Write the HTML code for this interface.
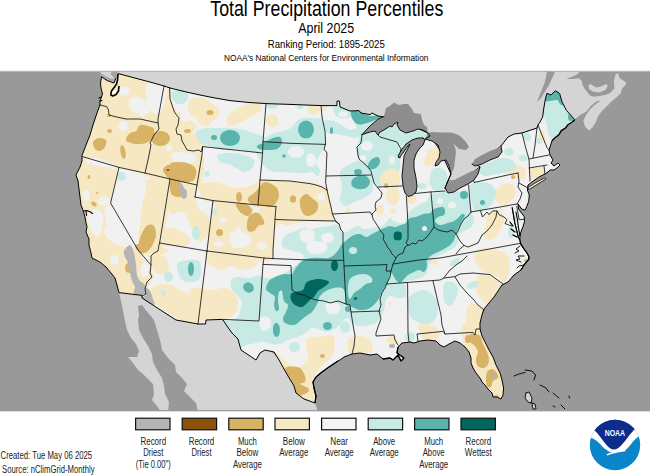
<!DOCTYPE html>
<html><head><meta charset="utf-8"><title>Total Precipitation Percentiles</title>
<style>html,body{margin:0;padding:0;background:#fff}svg{display:block}text{font-family:"Liberation Sans",sans-serif}</style>
</head><body>
<svg width="650" height="475" viewBox="0 0 650 475" font-family="Liberation Sans, sans-serif">
<rect width="650" height="475" fill="#fff"/>

<g fill="#000" text-anchor="middle">
<text x="326.8" y="16" font-size="21.6" textLength="233" lengthAdjust="spacingAndGlyphs">Total Precipitation Percentiles</text>
<text x="326.2" y="33" font-size="15" textLength="56" lengthAdjust="spacingAndGlyphs">April 2025</text>
<text x="326.3" y="47.6" font-size="11" textLength="117" lengthAdjust="spacingAndGlyphs">Ranking Period: 1895-2025</text>
<text x="326.2" y="61" font-size="9.4" textLength="204.5" lengthAdjust="spacingAndGlyphs">NOAA's National Centers for Environmental Information</text>
</g>
<defs><clipPath id="mapclip"><rect x="0" y="71.3" width="650" height="339.5"/></clipPath>
<clipPath id="us"><path d="M118.0,73.5 L134.0,77.8 L150.0,82.0 L164.0,86.0 L170.0,88.0 L185.0,91.7 L200.0,95.0 L215.0,98.0 L230.0,100.6 L248.0,102.4 L266.0,103.6 L290.0,104.4 L321.0,105.6 L337.0,105.6 L337.0,101.0 L339.4,101.0 L340.0,107.0 L350.0,111.0 L359.0,110.6 L361.0,113.0 L370.0,114.6 L372.0,113.0 L378.0,116.0 L384.0,117.0 L400.0,120.0 L428.0,133.0 L440.0,150.0 L451.0,174.0 L447.0,183.0 L445.0,189.0 L462.0,180.0 L480.0,167.0 L475.0,163.0 L490.0,155.0 L501.0,146.0 L508.0,137.0 L514.0,134.0 L522.0,133.0 L537.0,128.0 L538.0,125.0 L540.0,122.0 L542.7,117.0 L543.5,110.0 L545.2,100.0 L546.9,93.4 L551.0,95.0 L555.4,90.8 L559.6,93.4 L562.0,101.8 L566.4,110.3 L572.3,117.0 L574.8,119.6 L572.3,122.0 L568.0,124.7 L565.5,128.0 L561.3,130.6 L558.8,134.8 L555.4,137.4 L552.0,140.8 L551.0,144.0 L549.0,150.0 L550.0,155.0 L553.0,160.0 L551.0,163.0 L554.0,166.0 L558.0,163.0 L560.0,165.0 L557.0,168.0 L554.0,170.0 L550.0,170.0 L548.0,172.0 L545.0,174.0 L539.0,177.0 L532.0,182.0 L528.0,185.0 L527.4,190.0 L529.3,195.0 L528.7,201.4 L526.8,206.4 L524.9,210.2 L521.7,209.0 L518.0,204.0 L518.6,209.0 L521.7,213.4 L524.2,216.5 L524.5,221.6 L523.0,226.7 L521.0,231.7 L519.8,236.8 L520.0,241.0 L521.0,244.4 L523.8,248.7 L527.0,253.0 L528.7,256.2 L529.0,259.0 L524.0,265.0 L521.0,270.0 L514.0,275.0 L508.0,282.0 L502.0,285.0 L498.0,291.0 L494.0,297.0 L489.0,303.0 L484.0,309.0 L482.0,315.0 L480.0,323.0 L480.0,329.0 L482.0,336.0 L485.0,342.0 L489.0,350.0 L493.0,357.0 L496.0,365.0 L500.0,373.0 L502.0,380.0 L503.6,388.0 L503.0,395.0 L501.0,399.0 L497.0,397.0 L493.0,397.0 L492.0,393.0 L488.0,389.0 L485.0,385.0 L482.0,382.0 L480.0,378.0 L476.0,373.0 L473.0,368.0 L471.0,363.0 L471.0,358.0 L469.0,352.0 L465.0,347.0 L460.0,343.0 L455.0,341.0 L449.0,344.0 L444.0,347.0 L440.0,345.0 L436.0,341.0 L428.0,340.0 L420.0,341.0 L414.0,343.0 L410.0,342.0 L402.0,343.0 L398.0,347.0 L397.0,353.0 L404.0,358.0 L401.0,361.0 L398.0,355.0 L393.0,360.0 L390.0,358.0 L383.0,359.0 L377.0,354.0 L370.0,355.0 L360.0,353.0 L352.0,354.0 L344.0,357.0 L340.0,360.0 L338.0,361.0 L329.0,367.0 L322.0,372.0 L316.0,377.0 L313.0,382.0 L314.0,388.0 L316.0,396.0 L315.0,403.0 L304.0,399.0 L296.0,393.0 L294.0,386.0 L288.0,376.0 L284.0,369.0 L279.0,360.0 L274.0,352.0 L265.0,350.0 L260.0,353.0 L256.0,360.0 L247.0,354.0 L241.0,350.0 L238.0,339.0 L232.0,333.0 L227.0,326.0 L223.0,320.0 L222.0,319.4 L206.0,320.0 L205.6,324.0 L198.0,324.0 L176.0,320.0 L142.0,298.0 L142.0,295.4 L119.0,292.6 L117.0,285.0 L115.0,278.0 L111.0,273.0 L106.0,267.0 L100.0,262.0 L92.0,258.0 L91.0,253.0 L89.0,245.0 L89.0,239.0 L86.0,232.0 L87.0,227.0 L86.0,223.0 L85.0,217.0 L83.0,210.0 L81.0,205.0 L80.0,197.0 L79.0,189.0 L78.0,181.0 L76.0,175.0 L80.0,167.0 L82.0,161.0 L82.0,155.0 L83.0,153.0 L86.0,145.0 L90.0,135.0 L93.0,125.0 L97.0,113.0 L100.0,105.0 L100.0,101.0 L101.5,97.0 L102.5,94.0 L101.0,88.0 L100.5,83.0 L101.5,76.8 L107.0,80.5 L114.0,83.0 L116.0,78.0Z"/><path d="M528.0,187.5 L536.0,182.5 L545.0,177.5 L546.0,179.0 L538.0,184.0 L529.0,189.5Z"/></clipPath></defs>
<g clip-path="url(#mapclip)">
<rect x="0" y="71.3" width="650" height="339.5" fill="#999999"/>
<path d="M100.0,71.0 L580.8,71.0 L576.5,74.8 L570.6,77.3 L566.4,79.0 L572.3,79.0 L579.0,78.2 L581.6,80.7 L582.5,84.9 L585.0,89.2 L588.4,93.4 L590.9,95.9 L594.3,96.8 L599.4,95.9 L604.5,95.1 L609.5,93.4 L614.6,88.3 L613.8,81.5 L615.4,74.8 L618.0,73.1 L619.7,78.2 L624.8,81.5 L626.4,84.1 L622.2,88.3 L620.5,93.4 L616.3,97.6 L611.2,101.8 L606.1,106.9 L601.1,112.0 L597.7,117.1 L596.0,122.1 L592.6,127.2 L589.2,130.6 L585.0,126.4 L583.3,120.5 L585.8,115.4 L589.2,110.3 L593.5,106.1 L597.7,102.7 L601.1,100.1 L596.0,101.8 L590.9,106.1 L585.8,112.0 L580.8,114.5 L575.7,118.8 L560.0,130.0 L500.0,180.0 L400.0,180.0 L300.0,150.0 L120.0,150.0 L104.0,90.0 L101.7,75.5Z" fill="#d4d4d4"/>
<path d="M588.4,85.8 L590.9,84.1 L596.0,87.5 L601.0,86.6 L606.0,84.0 L607.8,85.8 L605.3,90.0 L599.4,92.5 L593.5,91.7 L589.2,89.2Z" fill="#d4d4d4"/>
<path d="M119.0,292.6 L121.0,301.0 L123.0,311.0 L125.0,321.0 L127.0,330.0 L131.0,338.0 L136.0,344.0 L139.0,351.0 L137.0,357.0 L128.0,357.0 L133.0,363.0 L138.0,370.0 L143.0,374.0 L148.0,379.0 L153.0,384.0 L154.0,394.0 L152.0,400.0 L157.0,406.0 L161.0,412.0 L168.0,412.0 L169.0,402.0 L165.0,394.0 L164.0,386.0 L162.0,378.0 L157.0,370.0 L153.0,362.0 L152.0,354.0 L148.0,346.0 L143.0,338.0 L139.0,330.0 L138.0,320.0 L139.0,315.0 L138.0,306.0 L142.0,305.0 L145.0,309.0 L150.0,315.0 L154.0,320.0 L157.0,330.0 L160.0,340.0 L162.0,350.0 L168.0,358.0 L175.0,365.0 L176.0,372.0 L182.0,378.0 L187.0,384.0 L184.0,391.0 L190.0,397.0 L196.0,403.0 L198.0,412.0 L318.0,412.0 L315.0,403.0 L300.0,380.0 L260.0,340.0 L220.0,310.0 L176.0,310.0 L142.0,290.0 L119.0,285.0Z" fill="#d4d4d4"/>
<path d="M526.0,393.0 L529.0,392.0 L532.0,398.0 L531.0,403.0 L528.0,402.0 L525.0,398.0Z" fill="#d4d4d4"/>
<path d="M532.0,403.0 L535.0,404.0 L536.0,409.0 L533.0,409.0Z" fill="#d4d4d4"/>
<path d="M547.0,71.0 L555.4,71.0 L549.0,85.0 L541.0,98.0 L537.0,102.0 L540.0,94.0 L545.0,82.0Z" fill="#999999"/>
<path d="M100.0,72.5 L106.0,76.5 L112.0,79.0 L117.0,77.0 L115.0,82.0 L107.0,81.0 L101.0,77.5Z" fill="#a8a8a8"/>
<path d="M118.0,73.5 L134.0,77.8 L150.0,82.0 L164.0,86.0 L170.0,88.0 L185.0,91.7 L200.0,95.0 L215.0,98.0 L230.0,100.6 L248.0,102.4 L266.0,103.6 L290.0,104.4 L321.0,105.6 L337.0,105.6 L337.0,101.0 L339.4,101.0 L340.0,107.0 L350.0,111.0 L359.0,110.6 L361.0,113.0 L370.0,114.6 L372.0,113.0 L378.0,116.0 L384.0,117.0 L400.0,120.0 L428.0,133.0 L440.0,150.0 L451.0,174.0 L447.0,183.0 L445.0,189.0 L462.0,180.0 L480.0,167.0 L475.0,163.0 L490.0,155.0 L501.0,146.0 L508.0,137.0 L514.0,134.0 L522.0,133.0 L537.0,128.0 L538.0,125.0 L540.0,122.0 L542.7,117.0 L543.5,110.0 L545.2,100.0 L546.9,93.4 L551.0,95.0 L555.4,90.8 L559.6,93.4 L562.0,101.8 L566.4,110.3 L572.3,117.0 L574.8,119.6 L572.3,122.0 L568.0,124.7 L565.5,128.0 L561.3,130.6 L558.8,134.8 L555.4,137.4 L552.0,140.8 L551.0,144.0 L549.0,150.0 L550.0,155.0 L553.0,160.0 L551.0,163.0 L554.0,166.0 L558.0,163.0 L560.0,165.0 L557.0,168.0 L554.0,170.0 L550.0,170.0 L548.0,172.0 L545.0,174.0 L539.0,177.0 L532.0,182.0 L528.0,185.0 L527.4,190.0 L529.3,195.0 L528.7,201.4 L526.8,206.4 L524.9,210.2 L521.7,209.0 L518.0,204.0 L518.6,209.0 L521.7,213.4 L524.2,216.5 L524.5,221.6 L523.0,226.7 L521.0,231.7 L519.8,236.8 L520.0,241.0 L521.0,244.4 L523.8,248.7 L527.0,253.0 L528.7,256.2 L529.0,259.0 L524.0,265.0 L521.0,270.0 L514.0,275.0 L508.0,282.0 L502.0,285.0 L498.0,291.0 L494.0,297.0 L489.0,303.0 L484.0,309.0 L482.0,315.0 L480.0,323.0 L480.0,329.0 L482.0,336.0 L485.0,342.0 L489.0,350.0 L493.0,357.0 L496.0,365.0 L500.0,373.0 L502.0,380.0 L503.6,388.0 L503.0,395.0 L501.0,399.0 L497.0,397.0 L493.0,397.0 L492.0,393.0 L488.0,389.0 L485.0,385.0 L482.0,382.0 L480.0,378.0 L476.0,373.0 L473.0,368.0 L471.0,363.0 L471.0,358.0 L469.0,352.0 L465.0,347.0 L460.0,343.0 L455.0,341.0 L449.0,344.0 L444.0,347.0 L440.0,345.0 L436.0,341.0 L428.0,340.0 L420.0,341.0 L414.0,343.0 L410.0,342.0 L402.0,343.0 L398.0,347.0 L397.0,353.0 L404.0,358.0 L401.0,361.0 L398.0,355.0 L393.0,360.0 L390.0,358.0 L383.0,359.0 L377.0,354.0 L370.0,355.0 L360.0,353.0 L352.0,354.0 L344.0,357.0 L340.0,360.0 L338.0,361.0 L329.0,367.0 L322.0,372.0 L316.0,377.0 L313.0,382.0 L314.0,388.0 L316.0,396.0 L315.0,403.0 L304.0,399.0 L296.0,393.0 L294.0,386.0 L288.0,376.0 L284.0,369.0 L279.0,360.0 L274.0,352.0 L265.0,350.0 L260.0,353.0 L256.0,360.0 L247.0,354.0 L241.0,350.0 L238.0,339.0 L232.0,333.0 L227.0,326.0 L223.0,320.0 L222.0,319.4 L206.0,320.0 L205.6,324.0 L198.0,324.0 L176.0,320.0 L142.0,298.0 L142.0,295.4 L119.0,292.6 L117.0,285.0 L115.0,278.0 L111.0,273.0 L106.0,267.0 L100.0,262.0 L92.0,258.0 L91.0,253.0 L89.0,245.0 L89.0,239.0 L86.0,232.0 L87.0,227.0 L86.0,223.0 L85.0,217.0 L83.0,210.0 L81.0,205.0 L80.0,197.0 L79.0,189.0 L78.0,181.0 L76.0,175.0 L80.0,167.0 L82.0,161.0 L82.0,155.0 L83.0,153.0 L86.0,145.0 L90.0,135.0 L93.0,125.0 L97.0,113.0 L100.0,105.0 L100.0,101.0 L101.5,97.0 L102.5,94.0 L101.0,88.0 L100.5,83.0 L101.5,76.8 L107.0,80.5 L114.0,83.0 L116.0,78.0Z" fill="#f1f1f1"/>
<path d="M528.0,187.5 L536.0,182.5 L545.0,177.5 L546.0,179.0 L538.0,184.0 L529.0,189.5Z" fill="#f6e8c3"/>
<g clip-path="url(#us)">
<path d="M98.0,72.0 C101.3,67.3 111.0,71.0 118.0,72.0 C125.0,73.0 134.7,76.5 140.0,78.0 C145.3,79.5 148.7,78.7 150.0,81.0 C151.3,83.3 148.7,88.3 148.0,92.0 C147.3,95.7 145.7,100.0 146.0,103.0 C146.3,106.0 148.0,108.2 150.0,110.0 C152.0,111.8 155.8,114.3 158.0,114.0 C160.2,113.7 161.7,110.7 163.0,108.0 C164.3,105.3 165.0,101.3 166.0,98.0 C167.0,94.7 168.0,87.7 169.0,88.0 C170.0,88.3 170.8,96.0 172.0,100.0 C173.2,104.0 174.5,108.7 176.0,112.0 C177.5,115.3 180.3,117.0 181.0,120.0 C181.7,123.0 179.2,127.0 180.0,130.0 C180.8,133.0 184.3,135.0 186.0,138.0 C187.7,141.0 187.7,145.7 190.0,148.0 C192.3,150.3 197.7,150.0 200.0,152.0 C202.3,154.0 203.5,156.7 204.0,160.0 C204.5,163.3 203.8,167.7 203.0,172.0 C202.2,176.3 202.0,184.0 199.0,186.0 C196.0,188.0 189.8,185.0 185.0,184.0 C180.2,183.0 175.8,181.5 170.0,180.0 C164.2,178.5 155.8,176.3 150.0,175.0 C144.2,173.7 140.2,173.2 135.0,172.0 C129.8,170.8 122.2,166.7 119.0,168.0 C115.8,169.3 117.2,176.0 116.0,180.0 C114.8,184.0 113.0,188.0 112.0,192.0 C111.0,196.0 112.0,201.0 110.0,204.0 C108.0,207.0 103.0,208.7 100.0,210.0 C97.0,211.3 94.7,211.3 92.0,212.0 C89.3,212.7 86.0,216.0 84.0,214.0 C82.0,212.0 81.3,205.7 80.0,200.0 C78.7,194.3 77.0,185.8 76.0,180.0 C75.0,174.2 73.3,170.0 74.0,165.0 C74.7,160.0 78.0,155.0 80.0,150.0 C82.0,145.0 84.0,140.3 86.0,135.0 C88.0,129.7 90.0,123.8 92.0,118.0 C94.0,112.2 97.0,107.7 98.0,100.0 C99.0,92.3 94.7,76.7 98.0,72.0Z" fill="#f6e8c3"/>
<path d="M84.0,212.0 C85.2,208.3 89.3,208.7 92.0,208.0 C94.7,207.3 97.7,207.3 100.0,208.0 C102.3,208.7 104.7,209.7 106.0,212.0 C107.3,214.3 108.3,218.7 108.0,222.0 C107.7,225.3 103.7,229.0 104.0,232.0 C104.3,235.0 107.3,237.7 110.0,240.0 C112.7,242.3 116.7,245.0 120.0,246.0 C123.3,247.0 127.0,245.3 130.0,246.0 C133.0,246.7 135.3,247.3 138.0,250.0 C140.7,252.7 143.7,259.0 146.0,262.0 C148.3,265.0 151.0,265.0 152.0,268.0 C153.0,271.0 153.0,276.3 152.0,280.0 C151.0,283.7 147.7,287.2 146.0,290.0 C144.3,292.8 146.5,296.5 142.0,297.0 C137.5,297.5 124.3,296.7 119.0,293.0 C113.7,289.3 113.2,279.8 110.0,275.0 C106.8,270.2 103.3,266.8 100.0,264.0 C96.7,261.2 92.0,261.2 90.0,258.0 C88.0,254.8 88.8,249.7 88.0,245.0 C87.2,240.3 85.7,235.5 85.0,230.0 C84.3,224.5 82.8,215.7 84.0,212.0Z" fill="#f6e8c3"/>
<path d="M146.0,173.0 C149.3,171.0 161.7,176.5 166.0,178.0 C170.3,179.5 171.3,178.3 172.0,182.0 C172.7,185.7 171.0,192.8 170.0,200.0 C169.0,207.2 167.3,217.5 166.0,225.0 C164.7,232.5 161.7,240.8 162.0,245.0 C162.3,249.2 168.3,248.2 168.0,250.0 C167.7,251.8 163.0,254.7 160.0,256.0 C157.0,257.3 153.0,259.0 150.0,258.0 C147.0,257.0 144.0,253.0 142.0,250.0 C140.0,247.0 138.3,244.2 138.0,240.0 C137.7,235.8 139.3,230.8 140.0,225.0 C140.7,219.2 141.0,210.8 142.0,205.0 C143.0,199.2 145.3,195.3 146.0,190.0 C146.7,184.7 142.7,175.0 146.0,173.0Z" fill="#f6e8c3"/>
<path d="M170.0,162.0 C175.3,157.0 194.3,157.8 200.0,160.0 C205.7,162.2 204.3,170.7 204.0,175.0 C203.7,179.3 199.3,181.8 198.0,186.0 C196.7,190.2 195.7,196.0 196.0,200.0 C196.3,204.0 198.3,207.7 200.0,210.0 C201.7,212.3 204.0,211.5 206.0,214.0 C208.0,216.5 211.7,221.5 212.0,225.0 C212.3,228.5 210.0,232.2 208.0,235.0 C206.0,237.8 202.0,241.8 200.0,242.0 C198.0,242.2 197.7,238.8 196.0,236.0 C194.3,233.2 191.7,228.5 190.0,225.0 C188.3,221.5 187.7,217.2 186.0,215.0 C184.3,212.8 182.3,212.2 180.0,212.0 C177.7,211.8 174.3,215.2 172.0,214.0 C169.7,212.8 166.7,209.0 166.0,205.0 C165.3,201.0 167.3,197.2 168.0,190.0 C168.7,182.8 164.7,167.0 170.0,162.0Z" fill="#f6e8c3"/>
<path d="M160.0,232.0 C162.0,229.3 168.3,228.0 172.0,228.0 C175.7,228.0 179.0,230.3 182.0,232.0 C185.0,233.7 189.3,235.7 190.0,238.0 C190.7,240.3 189.0,244.7 186.0,246.0 C183.0,247.3 176.3,246.3 172.0,246.0 C167.7,245.7 162.0,246.3 160.0,244.0 C158.0,241.7 158.0,234.7 160.0,232.0Z" fill="#f6e8c3"/>
<path d="M198.0,186.0 C199.0,183.0 206.0,182.3 210.0,182.0 C214.0,181.7 217.7,183.0 222.0,184.0 C226.3,185.0 231.3,187.7 236.0,188.0 C240.7,188.3 245.7,187.3 250.0,186.0 C254.3,184.7 257.0,181.0 262.0,180.0 C267.0,179.0 273.7,179.7 280.0,180.0 C286.3,180.3 293.7,181.3 300.0,182.0 C306.3,182.7 313.5,182.7 318.0,184.0 C322.5,185.3 324.8,186.8 327.0,190.0 C329.2,193.2 330.0,199.0 331.0,203.0 C332.0,207.0 332.5,211.0 333.0,214.0 C333.5,217.0 335.8,219.7 334.0,221.0 C332.2,222.3 326.3,221.8 322.0,222.0 C317.7,222.2 312.3,221.8 308.0,222.0 C303.7,222.2 299.3,222.3 296.0,223.0 C292.7,223.7 290.3,225.8 288.0,226.0 C285.7,226.2 284.0,223.7 282.0,224.0 C280.0,224.3 277.3,224.3 276.0,228.0 C274.7,231.7 274.7,241.0 274.0,246.0 C273.3,251.0 274.0,255.3 272.0,258.0 C270.0,260.7 265.7,262.0 262.0,262.0 C258.3,262.0 254.3,259.0 250.0,258.0 C245.7,257.0 240.7,256.7 236.0,256.0 C231.3,255.3 226.3,255.0 222.0,254.0 C217.7,253.0 212.3,253.0 210.0,250.0 C207.7,247.0 207.7,241.0 208.0,236.0 C208.3,231.0 211.0,225.3 212.0,220.0 C213.0,214.7 215.3,207.3 214.0,204.0 C212.7,200.7 206.7,203.0 204.0,200.0 C201.3,197.0 197.0,189.0 198.0,186.0Z" fill="#f6e8c3"/>
<path d="M190.0,100.0 C191.7,98.5 195.3,97.2 198.0,97.0 C200.7,96.8 203.7,97.8 206.0,99.0 C208.3,100.2 210.0,102.5 212.0,104.0 C214.0,105.5 216.7,106.3 218.0,108.0 C219.3,109.7 220.7,112.0 220.0,114.0 C219.3,116.0 216.0,118.0 214.0,120.0 C212.0,122.0 210.3,125.3 208.0,126.0 C205.7,126.7 202.0,125.3 200.0,124.0 C198.0,122.7 197.7,119.7 196.0,118.0 C194.3,116.3 191.3,116.0 190.0,114.0 C188.7,112.0 188.0,108.3 188.0,106.0 C188.0,103.7 188.3,101.5 190.0,100.0Z" fill="#f6e8c3"/>
<path d="M226.0,122.0 C226.0,120.0 228.0,116.3 230.0,114.0 C232.0,111.7 235.0,109.7 238.0,108.0 C241.0,106.3 244.7,105.0 248.0,104.0 C251.3,103.0 255.7,101.3 258.0,102.0 C260.3,102.7 262.3,106.0 262.0,108.0 C261.7,110.0 258.3,112.3 256.0,114.0 C253.7,115.7 251.0,116.3 248.0,118.0 C245.0,119.7 241.0,122.7 238.0,124.0 C235.0,125.3 232.0,126.3 230.0,126.0 C228.0,125.7 226.0,124.0 226.0,122.0Z" fill="#f6e8c3"/>
<path d="M176.0,112.0 C177.0,110.7 181.7,112.7 184.0,114.0 C186.3,115.3 188.0,118.0 190.0,120.0 C192.0,122.0 195.7,123.7 196.0,126.0 C196.3,128.3 193.7,132.0 192.0,134.0 C190.3,136.0 188.0,138.3 186.0,138.0 C184.0,137.7 181.3,134.7 180.0,132.0 C178.7,129.3 178.7,125.3 178.0,122.0 C177.3,118.7 175.0,113.3 176.0,112.0Z" fill="#f6e8c3"/>
<path d="M186.0,138.0 C187.0,135.7 193.0,134.0 196.0,134.0 C199.0,134.0 202.3,136.0 204.0,138.0 C205.7,140.0 207.0,144.0 206.0,146.0 C205.0,148.0 200.7,149.7 198.0,150.0 C195.3,150.3 192.0,150.0 190.0,148.0 C188.0,146.0 185.0,140.3 186.0,138.0Z" fill="#f6e8c3"/>
<path d="M207.0,251.0 C211.0,249.8 222.8,252.2 230.0,253.0 C237.2,253.8 245.3,254.5 250.0,256.0 C254.7,257.5 257.7,260.0 258.0,262.0 C258.3,264.0 255.0,266.7 252.0,268.0 C249.0,269.3 243.7,270.3 240.0,270.0 C236.3,269.7 233.0,266.0 230.0,266.0 C227.0,266.0 225.0,270.0 222.0,270.0 C219.0,270.0 214.7,267.7 212.0,266.0 C209.3,264.3 206.8,262.5 206.0,260.0 C205.2,257.5 203.0,252.2 207.0,251.0Z" fill="#f6e8c3"/>
<path d="M190.0,290.0 C192.0,287.3 196.3,288.0 200.0,288.0 C203.7,288.0 208.0,290.0 212.0,290.0 C216.0,290.0 220.3,287.7 224.0,288.0 C227.7,288.3 231.7,289.7 234.0,292.0 C236.3,294.3 237.7,298.7 238.0,302.0 C238.3,305.3 237.7,309.3 236.0,312.0 C234.3,314.7 231.7,316.7 228.0,318.0 C224.3,319.3 218.7,319.3 214.0,320.0 C209.3,320.7 203.7,322.7 200.0,322.0 C196.3,321.3 194.0,319.0 192.0,316.0 C190.0,313.0 188.3,308.3 188.0,304.0 C187.7,299.7 188.0,292.7 190.0,290.0Z" fill="#f6e8c3"/>
<path d="M152.0,258.0 C153.3,255.7 159.3,255.3 162.0,256.0 C164.7,256.7 167.0,259.3 168.0,262.0 C169.0,264.7 169.3,270.0 168.0,272.0 C166.7,274.0 162.3,274.3 160.0,274.0 C157.7,273.7 155.3,272.7 154.0,270.0 C152.7,267.3 150.7,260.3 152.0,258.0Z" fill="#f6e8c3"/>
<path d="M156.0,286.0 C159.7,284.3 164.0,283.3 168.0,284.0 C172.0,284.7 176.0,288.0 180.0,290.0 C184.0,292.0 189.0,293.0 192.0,296.0 C195.0,299.0 197.0,303.7 198.0,308.0 C199.0,312.3 200.0,319.7 198.0,322.0 C196.0,324.3 189.7,322.7 186.0,322.0 C182.3,321.3 179.7,320.0 176.0,318.0 C172.3,316.0 168.0,312.7 164.0,310.0 C160.0,307.3 155.0,304.7 152.0,302.0 C149.0,299.3 145.3,296.7 146.0,294.0 C146.7,291.3 152.3,287.7 156.0,286.0Z" fill="#f6e8c3"/>
<path d="M274.0,352.0 C274.3,351.0 279.0,355.7 282.0,358.0 C285.0,360.3 289.0,364.7 292.0,366.0 C295.0,367.3 297.3,367.0 300.0,366.0 C302.7,365.0 307.0,363.3 308.0,360.0 C309.0,356.7 306.0,349.7 306.0,346.0 C306.0,342.3 305.7,339.5 308.0,338.0 C310.3,336.5 316.0,337.5 320.0,337.0 C324.0,336.5 329.5,333.8 332.0,335.0 C334.5,336.2 335.0,340.5 335.0,344.0 C335.0,347.5 333.8,352.7 332.0,356.0 C330.2,359.3 326.3,361.7 324.0,364.0 C321.7,366.3 319.7,367.7 318.0,370.0 C316.3,372.3 314.5,375.0 314.0,378.0 C313.5,381.0 314.7,384.0 315.0,388.0 C315.3,392.0 317.8,400.2 316.0,402.0 C314.2,403.8 307.3,400.5 304.0,399.0 C300.7,397.5 298.7,396.8 296.0,393.0 C293.3,389.2 290.7,380.8 288.0,376.0 C285.3,371.2 282.3,368.0 280.0,364.0 C277.7,360.0 273.7,353.0 274.0,352.0Z" fill="#f6e8c3"/>
<ellipse cx="385.0" cy="181.0" rx="5.0" ry="6.0" fill="#f6e8c3"/>
<ellipse cx="390.0" cy="195.0" rx="4.0" ry="6.0" fill="#f6e8c3"/>
<ellipse cx="380.0" cy="210.0" rx="4.0" ry="5.0" fill="#f6e8c3"/>
<ellipse cx="393.0" cy="211.0" rx="3.0" ry="3.0" fill="#f6e8c3"/>
<ellipse cx="348.0" cy="210.0" rx="2.0" ry="3.0" fill="#f6e8c3"/>
<path d="M428.0,150.0 C429.7,148.7 433.8,147.7 436.0,148.0 C438.2,148.3 440.3,150.3 441.0,152.0 C441.7,153.7 441.2,156.3 440.0,158.0 C438.8,159.7 435.7,160.7 434.0,162.0 C432.3,163.3 431.7,165.7 430.0,166.0 C428.3,166.3 424.7,165.7 424.0,164.0 C423.3,162.3 425.3,158.3 426.0,156.0 C426.7,153.7 426.3,151.3 428.0,150.0Z" fill="#f6e8c3"/>
<ellipse cx="415.0" cy="152.0" rx="3.0" ry="4.0" fill="#f6e8c3"/>
<ellipse cx="431.0" cy="183.0" rx="3.0" ry="2.5" fill="#f6e8c3"/>
<path d="M496.0,190.0 C497.7,188.0 501.3,186.7 504.0,186.0 C506.7,185.3 510.3,184.7 512.0,186.0 C513.7,187.3 514.7,191.3 514.0,194.0 C513.3,196.7 510.3,200.3 508.0,202.0 C505.7,203.7 502.3,204.7 500.0,204.0 C497.7,203.3 494.7,200.3 494.0,198.0 C493.3,195.7 494.3,192.0 496.0,190.0Z" fill="#f6e8c3"/>
<path d="M508.0,166.0 C508.7,164.0 513.3,163.7 516.0,164.0 C518.7,164.3 522.3,166.0 524.0,168.0 C525.7,170.0 526.7,174.0 526.0,176.0 C525.3,178.0 522.3,180.0 520.0,180.0 C517.7,180.0 514.0,178.3 512.0,176.0 C510.0,173.7 507.3,168.0 508.0,166.0Z" fill="#f6e8c3"/>
<path d="M530.0,169.0 C532.3,167.2 541.7,166.2 544.0,167.0 C546.3,167.8 545.3,172.2 544.0,174.0 C542.7,175.8 538.3,177.3 536.0,178.0 C533.7,178.7 531.0,179.5 530.0,178.0 C529.0,176.5 527.7,170.8 530.0,169.0Z" fill="#f6e8c3"/>
<ellipse cx="512.0" cy="172.0" rx="5.0" ry="4.0" fill="#f6e8c3"/>
<path d="M500.0,186.0 C502.0,182.7 509.3,183.0 512.0,184.0 C514.7,185.0 516.3,189.0 516.0,192.0 C515.7,195.0 512.7,200.0 510.0,202.0 C507.3,204.0 501.7,206.7 500.0,204.0 C498.3,201.3 498.0,189.3 500.0,186.0Z" fill="#f6e8c3"/>
<path d="M488.0,214.0 C490.0,211.7 495.3,209.7 498.0,210.0 C500.7,210.3 503.3,213.3 504.0,216.0 C504.7,218.7 503.3,222.7 502.0,226.0 C500.7,229.3 498.0,233.7 496.0,236.0 C494.0,238.3 492.0,240.0 490.0,240.0 C488.0,240.0 484.7,238.7 484.0,236.0 C483.3,233.3 485.3,227.7 486.0,224.0 C486.7,220.3 486.0,216.3 488.0,214.0Z" fill="#f6e8c3"/>
<path d="M476.0,252.0 C477.8,250.0 482.7,248.3 486.0,248.0 C489.3,247.7 493.0,249.3 496.0,250.0 C499.0,250.7 501.8,250.7 504.0,252.0 C506.2,253.3 508.0,255.7 509.0,258.0 C510.0,260.3 510.2,263.0 510.0,266.0 C509.8,269.0 509.0,273.3 508.0,276.0 C507.0,278.7 506.0,282.0 504.0,282.0 C502.0,282.0 498.7,277.3 496.0,276.0 C493.3,274.7 490.7,275.3 488.0,274.0 C485.3,272.7 482.2,270.3 480.0,268.0 C477.8,265.7 475.7,262.7 475.0,260.0 C474.3,257.3 474.2,254.0 476.0,252.0Z" fill="#f6e8c3"/>
<path d="M478.0,276.0 C480.3,273.7 486.3,274.7 490.0,276.0 C493.7,277.3 499.0,281.0 500.0,284.0 C501.0,287.0 498.0,290.7 496.0,294.0 C494.0,297.3 490.3,303.0 488.0,304.0 C485.7,305.0 484.0,302.3 482.0,300.0 C480.0,297.7 476.7,294.0 476.0,290.0 C475.3,286.0 475.7,278.3 478.0,276.0Z" fill="#f6e8c3"/>
<path d="M468.0,306.0 C469.7,303.0 473.3,303.3 476.0,304.0 C478.7,304.7 483.3,307.0 484.0,310.0 C484.7,313.0 480.7,318.0 480.0,322.0 C479.3,326.0 481.7,332.0 480.0,334.0 C478.3,336.0 472.3,336.0 470.0,334.0 C467.7,332.0 466.3,326.7 466.0,322.0 C465.7,317.3 466.3,309.0 468.0,306.0Z" fill="#f6e8c3"/>
<path d="M462.0,326.0 C463.7,322.3 470.7,322.3 474.0,324.0 C477.3,325.7 479.3,331.3 482.0,336.0 C484.7,340.7 487.3,346.3 490.0,352.0 C492.7,357.7 495.7,363.7 498.0,370.0 C500.3,376.3 503.5,385.2 504.0,390.0 C504.5,394.8 503.0,398.0 501.0,399.0 C499.0,400.0 494.8,398.5 492.0,396.0 C489.2,393.5 487.0,388.3 484.0,384.0 C481.0,379.7 476.3,374.7 474.0,370.0 C471.7,365.3 471.7,360.0 470.0,356.0 C468.3,352.0 465.3,351.0 464.0,346.0 C462.7,341.0 460.3,329.7 462.0,326.0Z" fill="#f6e8c3"/>
<path d="M419.0,325.0 C420.3,322.5 428.5,323.8 432.0,325.0 C435.5,326.2 439.3,329.5 440.0,332.0 C440.7,334.5 438.7,338.7 436.0,340.0 C433.3,341.3 426.8,342.5 424.0,340.0 C421.2,337.5 417.7,327.5 419.0,325.0Z" fill="#f6e8c3"/>
<path d="M348.0,340.0 C349.3,337.0 354.3,336.0 358.0,336.0 C361.7,336.0 367.7,337.3 370.0,340.0 C372.3,342.7 373.7,349.7 372.0,352.0 C370.3,354.3 363.7,353.7 360.0,354.0 C356.3,354.3 352.0,356.3 350.0,354.0 C348.0,351.7 346.7,343.0 348.0,340.0Z" fill="#f6e8c3"/>
<path d="M387.0,338.0 C388.0,336.7 394.2,336.2 396.0,337.0 C397.8,337.8 399.0,341.7 398.0,343.0 C397.0,344.3 391.8,345.8 390.0,345.0 C388.2,344.2 386.0,339.3 387.0,338.0Z" fill="#f6e8c3"/>
<ellipse cx="390.0" cy="304.0" rx="1.5" ry="2.0" fill="#f6e8c3"/>
<ellipse cx="434.0" cy="262.0" rx="4.0" ry="3.0" fill="#f6e8c3"/>
<ellipse cx="542.0" cy="136.0" rx="3.0" ry="7.0" fill="#f6e8c3" transform="rotate(-15.0 542.0 136.0)"/>
<ellipse cx="356.0" cy="290.0" rx="2.0" ry="2.0" fill="#f6e8c3"/>
<path d="M172.0,92.0 C173.3,90.7 177.5,90.0 180.0,90.0 C182.5,90.0 185.7,90.5 187.0,92.0 C188.3,93.5 188.7,97.0 188.0,99.0 C187.3,101.0 185.0,103.3 183.0,104.0 C181.0,104.7 177.8,104.0 176.0,103.0 C174.2,102.0 172.7,99.8 172.0,98.0 C171.3,96.2 170.7,93.3 172.0,92.0Z" fill="#c7eae5"/>
<path d="M196.0,132.0 C197.0,129.7 202.3,128.7 206.0,128.0 C209.7,127.3 214.0,128.0 218.0,128.0 C222.0,128.0 225.7,127.7 230.0,128.0 C234.3,128.3 239.7,129.0 244.0,130.0 C248.3,131.0 252.7,132.7 256.0,134.0 C259.3,135.3 262.7,135.0 264.0,138.0 C265.3,141.0 266.3,149.7 264.0,152.0 C261.7,154.3 254.7,152.3 250.0,152.0 C245.3,151.7 240.7,150.3 236.0,150.0 C231.3,149.7 226.3,150.7 222.0,150.0 C217.7,149.3 213.7,147.3 210.0,146.0 C206.3,144.7 202.3,144.3 200.0,142.0 C197.7,139.7 195.0,134.3 196.0,132.0Z" fill="#c7eae5"/>
<path d="M218.0,155.0 C219.7,153.5 225.7,153.0 230.0,153.0 C234.3,153.0 240.0,153.8 244.0,155.0 C248.0,156.2 252.7,157.8 254.0,160.0 C255.3,162.2 253.7,166.0 252.0,168.0 C250.3,170.0 246.7,172.0 244.0,172.0 C241.3,172.0 238.7,169.3 236.0,168.0 C233.3,166.7 230.7,165.0 228.0,164.0 C225.3,163.0 221.7,163.5 220.0,162.0 C218.3,160.5 216.3,156.5 218.0,155.0Z" fill="#c7eae5"/>
<ellipse cx="207.0" cy="174.0" rx="2.5" ry="3.0" fill="#c7eae5"/>
<ellipse cx="214.5" cy="212.0" rx="2.5" ry="3.0" fill="#c7eae5"/>
<ellipse cx="196.0" cy="233.0" rx="4.0" ry="7.0" fill="#c7eae5"/>
<path d="M263.0,138.0 C266.2,136.5 270.7,134.5 275.0,133.0 C279.3,131.5 285.3,131.0 289.0,129.0 C292.7,127.0 294.7,122.8 297.0,121.0 C299.3,119.2 300.0,118.5 303.0,118.0 C306.0,117.5 311.8,117.7 315.0,118.0 C318.2,118.3 320.3,117.2 322.0,120.0 C323.7,122.8 324.3,131.0 325.0,135.0 C325.7,139.0 326.3,141.5 326.0,144.0 C325.7,146.5 324.2,148.0 323.0,150.0 C321.8,152.0 320.2,153.7 319.0,156.0 C317.8,158.3 315.8,161.7 316.0,164.0 C316.2,166.3 319.7,168.0 320.0,170.0 C320.3,172.0 319.3,175.7 318.0,176.0 C316.7,176.3 314.2,172.5 312.0,172.0 C309.8,171.5 307.7,172.8 305.0,173.0 C302.3,173.2 300.0,173.2 296.0,173.0 C292.0,172.8 285.2,172.3 281.0,172.0 C276.8,171.7 274.0,172.2 271.0,171.0 C268.0,169.8 265.0,167.2 263.0,165.0 C261.0,162.8 260.2,160.2 259.0,158.0 C257.8,155.8 256.5,154.7 256.0,152.0 C255.5,149.3 254.8,144.3 256.0,142.0 C257.2,139.7 259.8,139.5 263.0,138.0Z" fill="#c7eae5"/>
<ellipse cx="272.0" cy="105.5" rx="6.0" ry="3.0" fill="#c7eae5"/>
<ellipse cx="300.0" cy="107.0" rx="3.0" ry="2.0" fill="#c7eae5"/>
<ellipse cx="296.0" cy="152.0" rx="8.0" ry="6.0" fill="#f1f1f1"/>
<ellipse cx="311.0" cy="160.0" rx="5.0" ry="7.0" fill="#f1f1f1"/>
<ellipse cx="272.0" cy="121.0" rx="6.5" ry="6.5" fill="#f6e8c3"/>
<ellipse cx="314.0" cy="110.0" rx="6.0" ry="5.0" fill="#f6e8c3"/>
<ellipse cx="324.0" cy="108.0" rx="2.5" ry="3.0" fill="#f6e8c3"/>
<path d="M333.0,107.0 C333.7,105.3 337.2,105.5 340.0,106.0 C342.8,106.5 348.0,108.3 350.0,110.0 C352.0,111.7 353.0,114.7 352.0,116.0 C351.0,117.3 346.7,118.0 344.0,118.0 C341.3,118.0 337.8,117.8 336.0,116.0 C334.2,114.2 332.3,108.7 333.0,107.0Z" fill="#c7eae5"/>
<path d="M324.0,122.0 C324.7,120.0 327.3,119.7 330.0,120.0 C332.7,120.3 336.7,122.3 340.0,124.0 C343.3,125.7 347.0,129.3 350.0,130.0 C353.0,130.7 356.0,127.3 358.0,128.0 C360.0,128.7 362.3,132.3 362.0,134.0 C361.7,135.7 358.7,137.7 356.0,138.0 C353.3,138.3 349.3,136.7 346.0,136.0 C342.7,135.3 339.3,134.7 336.0,134.0 C332.7,133.3 328.0,134.0 326.0,132.0 C324.0,130.0 323.3,124.0 324.0,122.0Z" fill="#c7eae5"/>
<ellipse cx="343.0" cy="114.0" rx="5.0" ry="3.0" fill="#f1f1f1"/>
<path d="M350.0,110.0 C351.0,107.7 357.7,111.0 362.0,112.0 C366.3,113.0 372.3,115.2 376.0,116.0 C379.7,116.8 382.0,115.3 384.0,117.0 C386.0,118.7 386.0,124.8 388.0,126.0 C390.0,127.2 393.0,123.0 396.0,124.0 C399.0,125.0 402.0,131.0 406.0,132.0 C410.0,133.0 416.3,129.7 420.0,130.0 C423.7,130.3 427.7,132.3 428.0,134.0 C428.3,135.7 425.0,138.7 422.0,140.0 C419.0,141.3 413.7,141.0 410.0,142.0 C406.3,143.0 403.0,146.0 400.0,146.0 C397.0,146.0 394.7,142.0 392.0,142.0 C389.3,142.0 386.7,146.0 384.0,146.0 C381.3,146.0 378.7,143.3 376.0,142.0 C373.3,140.7 370.3,139.3 368.0,138.0 C365.7,136.7 364.0,136.0 362.0,134.0 C360.0,132.0 358.0,130.0 356.0,126.0 C354.0,122.0 349.0,112.3 350.0,110.0Z" fill="#c7eae5"/>
<path d="M340.0,172.0 C341.3,168.3 346.7,166.0 350.0,164.0 C353.3,162.0 356.7,161.0 360.0,160.0 C363.3,159.0 367.0,158.0 370.0,158.0 C373.0,158.0 376.3,158.0 378.0,160.0 C379.7,162.0 380.7,166.7 380.0,170.0 C379.3,173.3 375.3,176.3 374.0,180.0 C372.7,183.7 373.7,189.0 372.0,192.0 C370.3,195.0 367.0,196.3 364.0,198.0 C361.0,199.7 357.0,200.7 354.0,202.0 C351.0,203.3 348.3,206.3 346.0,206.0 C343.7,205.7 340.7,203.3 340.0,200.0 C339.3,196.7 342.0,190.7 342.0,186.0 C342.0,181.3 338.7,175.7 340.0,172.0Z" fill="#c7eae5"/>
<path d="M231.0,280.0 C232.0,278.0 235.2,277.3 238.0,277.0 C240.8,276.7 245.0,278.2 248.0,278.0 C251.0,277.8 253.7,276.3 256.0,276.0 C258.3,275.7 260.3,275.7 262.0,276.0 C263.7,276.3 263.0,278.0 266.0,278.0 C269.0,278.0 274.3,278.7 280.0,276.0 C285.7,273.3 296.0,265.2 300.0,262.0 C304.0,258.8 304.0,258.5 304.0,257.0 C304.0,255.5 302.3,254.2 300.0,253.0 C297.7,251.8 292.8,251.0 290.0,250.0 C287.2,249.0 284.3,248.5 283.0,247.0 C281.7,245.5 281.5,243.0 282.0,241.0 C282.5,239.0 283.7,236.7 286.0,235.0 C288.3,233.3 293.0,232.2 296.0,231.0 C299.0,229.8 301.3,228.3 304.0,228.0 C306.7,227.7 309.0,229.2 312.0,229.0 C315.0,228.8 319.0,227.5 322.0,227.0 C325.0,226.5 327.3,226.3 330.0,226.0 C332.7,225.7 335.8,223.8 338.0,225.0 C340.2,226.2 340.3,232.7 343.0,233.0 C345.7,233.3 351.3,228.2 354.0,227.0 C356.7,225.8 357.3,225.7 359.0,226.0 C360.7,226.3 360.8,228.8 364.0,229.0 C367.2,229.2 374.3,228.0 378.0,227.0 C381.7,226.0 384.0,224.5 386.0,223.0 C388.0,221.5 388.7,218.3 390.0,218.0 C391.3,217.7 391.7,220.2 394.0,221.0 C396.3,221.8 401.7,224.3 404.0,223.0 C406.3,221.7 406.3,215.5 408.0,213.0 C409.7,210.5 412.0,209.5 414.0,208.0 C416.0,206.5 418.0,205.3 420.0,204.0 C422.0,202.7 424.0,201.7 426.0,200.0 C428.0,198.3 429.0,195.3 432.0,194.0 C435.0,192.7 440.0,192.3 444.0,192.0 C448.0,191.7 452.3,192.3 456.0,192.0 C459.7,191.7 463.7,188.7 466.0,190.0 C468.3,191.3 469.2,196.3 470.0,200.0 C470.8,203.7 470.3,209.0 471.0,212.0 C471.7,215.0 473.8,215.7 474.0,218.0 C474.2,220.3 473.3,224.0 472.0,226.0 C470.7,228.0 468.0,228.7 466.0,230.0 C464.0,231.3 461.3,232.3 460.0,234.0 C458.7,235.7 458.7,238.0 458.0,240.0 C457.3,242.0 457.3,244.3 456.0,246.0 C454.7,247.7 452.0,248.8 450.0,250.0 C448.0,251.2 446.0,252.0 444.0,253.0 C442.0,254.0 440.0,255.0 438.0,256.0 C436.0,257.0 433.7,257.0 432.0,259.0 C430.3,261.0 429.0,265.5 428.0,268.0 C427.0,270.5 427.3,272.3 426.0,274.0 C424.7,275.7 422.3,277.0 420.0,278.0 C417.7,279.0 414.3,279.2 412.0,280.0 C409.7,280.8 407.0,280.3 406.0,283.0 C405.0,285.7 407.3,293.5 406.0,296.0 C404.7,298.5 400.7,298.0 398.0,298.0 C395.3,298.0 392.0,295.7 390.0,296.0 C388.0,296.3 387.0,297.7 386.0,300.0 C385.0,302.3 385.0,307.0 384.0,310.0 C383.0,313.0 381.7,315.7 380.0,318.0 C378.3,320.3 377.0,322.7 374.0,324.0 C371.0,325.3 365.7,326.0 362.0,326.0 C358.3,326.0 354.3,325.3 352.0,324.0 C349.7,322.7 349.3,318.7 348.0,318.0 C346.7,317.3 345.3,319.0 344.0,320.0 C342.7,321.0 341.3,322.7 340.0,324.0 C338.7,325.3 338.0,326.7 336.0,328.0 C334.0,329.3 330.7,331.7 328.0,332.0 C325.3,332.3 322.7,330.7 320.0,330.0 C317.3,329.3 314.7,327.3 312.0,328.0 C309.3,328.7 307.0,332.3 304.0,334.0 C301.0,335.7 296.7,337.0 294.0,338.0 C291.3,339.0 290.3,339.0 288.0,340.0 C285.7,341.0 282.7,343.3 280.0,344.0 C277.3,344.7 274.7,344.3 272.0,344.0 C269.3,343.7 266.7,342.2 264.0,342.0 C261.3,341.8 259.0,342.5 256.0,343.0 C253.0,343.5 248.7,344.2 246.0,345.0 C243.3,345.8 241.3,349.0 240.0,348.0 C238.7,347.0 239.3,341.5 238.0,339.0 C236.7,336.5 233.8,335.2 232.0,333.0 C230.2,330.8 228.5,328.2 227.0,326.0 C225.5,323.8 222.5,320.8 223.0,320.0 C223.5,319.2 227.5,321.5 230.0,321.0 C232.5,320.5 236.3,318.7 238.0,317.0 C239.7,315.3 239.3,313.3 240.0,311.0 C240.7,308.7 242.5,305.7 242.0,303.0 C241.5,300.3 238.7,297.3 237.0,295.0 C235.3,292.7 233.0,291.5 232.0,289.0 C231.0,286.5 230.0,282.0 231.0,280.0Z" fill="#c7eae5"/>
<path d="M470.0,186.0 C471.0,181.3 476.7,182.3 480.0,182.0 C483.3,181.7 487.3,182.3 490.0,184.0 C492.7,185.7 495.7,188.7 496.0,192.0 C496.3,195.3 494.0,201.0 492.0,204.0 C490.0,207.0 487.0,209.0 484.0,210.0 C481.0,211.0 476.3,214.0 474.0,210.0 C471.7,206.0 469.0,190.7 470.0,186.0Z" fill="#c7eae5"/>
<path d="M478.0,168.0 C479.0,165.7 486.0,163.7 490.0,162.0 C494.0,160.3 498.3,158.3 502.0,158.0 C505.7,157.7 509.7,158.3 512.0,160.0 C514.3,161.7 516.7,166.0 516.0,168.0 C515.3,170.0 511.3,171.0 508.0,172.0 C504.7,173.0 500.0,173.3 496.0,174.0 C492.0,174.7 487.0,177.0 484.0,176.0 C481.0,175.0 477.0,170.3 478.0,168.0Z" fill="#c7eae5"/>
<ellipse cx="509.0" cy="152.0" rx="5.0" ry="4.0" fill="#c7eae5"/>
<ellipse cx="523.5" cy="158.0" rx="4.5" ry="3.5" fill="#c7eae5"/>
<ellipse cx="527.0" cy="137.0" rx="4.0" ry="4.0" fill="#c7eae5"/>
<ellipse cx="539.0" cy="141.0" rx="3.0" ry="3.0" fill="#c7eae5"/>
<path d="M544.0,98.0 C545.5,95.3 549.3,96.3 552.0,96.0 C554.7,95.7 558.0,94.3 560.0,96.0 C562.0,97.7 562.3,103.0 564.0,106.0 C565.7,109.0 568.3,111.7 570.0,114.0 C571.7,116.3 574.3,118.3 574.0,120.0 C573.7,121.7 570.0,122.3 568.0,124.0 C566.0,125.7 564.0,128.0 562.0,130.0 C560.0,132.0 557.7,134.3 556.0,136.0 C554.3,137.7 553.3,140.7 552.0,140.0 C550.7,139.3 549.0,135.0 548.0,132.0 C547.0,129.0 546.8,125.3 546.0,122.0 C545.2,118.7 543.3,116.0 543.0,112.0 C542.7,108.0 542.5,100.7 544.0,98.0Z" fill="#c7eae5"/>
<path d="M408.0,300.0 C409.0,296.0 413.3,293.7 416.0,292.0 C418.7,290.3 421.3,289.7 424.0,290.0 C426.7,290.3 429.7,291.7 432.0,294.0 C434.3,296.3 437.3,300.0 438.0,304.0 C438.7,308.0 437.7,314.7 436.0,318.0 C434.3,321.3 431.0,323.3 428.0,324.0 C425.0,324.7 421.0,323.3 418.0,322.0 C415.0,320.7 411.7,319.7 410.0,316.0 C408.3,312.3 407.0,304.0 408.0,300.0Z" fill="#c7eae5"/>
<path d="M444.0,284.0 C445.3,281.0 449.7,281.3 452.0,282.0 C454.3,282.7 457.3,285.3 458.0,288.0 C458.7,290.7 457.3,295.0 456.0,298.0 C454.7,301.0 452.0,305.7 450.0,306.0 C448.0,306.3 445.0,303.7 444.0,300.0 C443.0,296.3 442.7,287.0 444.0,284.0Z" fill="#c7eae5"/>
<ellipse cx="473.0" cy="285.0" rx="6.0" ry="3.5" fill="#c7eae5" transform="rotate(-20.0 473.0 285.0)"/>
<ellipse cx="410.0" cy="337.0" rx="5.0" ry="5.0" fill="#c7eae5"/>
<ellipse cx="345.0" cy="327.0" rx="5.0" ry="6.0" fill="#c7eae5"/>
<path d="M178.0,263.0 C180.0,261.0 186.3,260.2 190.0,260.0 C193.7,259.8 198.3,259.0 200.0,262.0 C201.7,265.0 201.3,274.7 200.0,278.0 C198.7,281.3 195.0,281.7 192.0,282.0 C189.0,282.3 184.3,281.7 182.0,280.0 C179.7,278.3 178.7,274.8 178.0,272.0 C177.3,269.2 176.0,265.0 178.0,263.0Z" fill="#c7eae5"/>
<ellipse cx="168.5" cy="277.0" rx="4.5" ry="5.0" fill="#c7eae5"/>
<ellipse cx="163.5" cy="293.0" rx="2.5" ry="3.0" fill="#c7eae5"/>
<ellipse cx="121.5" cy="176.5" rx="4.5" ry="4.5" fill="#c7eae5"/>
<ellipse cx="511.0" cy="232.0" rx="3.0" ry="6.0" fill="#c7eae5"/>
<ellipse cx="485.0" cy="200.0" rx="6.0" ry="5.0" fill="#c7eae5"/>
<ellipse cx="455.0" cy="262.0" rx="6.0" ry="3.0" fill="#c7eae5" transform="rotate(-30.0 455.0 262.0)"/>
<ellipse cx="516.0" cy="218.0" rx="3.0" ry="4.0" fill="#c7eae5"/>
<path d="M120.0,88.0 C121.5,87.0 126.5,86.2 128.0,87.0 C129.5,87.8 129.8,91.5 129.0,93.0 C128.2,94.5 124.7,96.0 123.0,96.0 C121.3,96.0 119.5,94.3 119.0,93.0 C118.5,91.7 118.5,89.0 120.0,88.0Z" fill="#f1f1f1"/>
<path d="M130.0,99.0 C131.7,97.2 137.3,96.3 140.0,97.0 C142.7,97.7 144.3,100.8 146.0,103.0 C147.7,105.2 150.3,107.8 150.0,110.0 C149.7,112.2 146.3,115.3 144.0,116.0 C141.7,116.7 138.3,115.3 136.0,114.0 C133.7,112.7 131.0,110.5 130.0,108.0 C129.0,105.5 128.3,100.8 130.0,99.0Z" fill="#f1f1f1"/>
<path d="M148.0,84.0 C151.0,82.5 161.7,84.3 164.0,87.0 C166.3,89.7 163.0,95.8 162.0,100.0 C161.0,104.2 160.0,110.7 158.0,112.0 C156.0,113.3 152.0,110.7 150.0,108.0 C148.0,105.3 146.3,100.0 146.0,96.0 C145.7,92.0 145.0,85.5 148.0,84.0Z" fill="#f1f1f1"/>
<ellipse cx="123.0" cy="126.0" rx="5.0" ry="5.0" fill="#f1f1f1"/>
<path d="M86.0,159.0 C87.5,158.2 92.3,157.5 96.0,158.0 C99.7,158.5 104.7,160.7 108.0,162.0 C111.3,163.3 115.0,164.8 116.0,166.0 C117.0,167.2 116.0,168.8 114.0,169.0 C112.0,169.2 107.3,167.7 104.0,167.0 C100.7,166.3 96.8,165.7 94.0,165.0 C91.2,164.3 88.3,164.0 87.0,163.0 C85.7,162.0 84.5,159.8 86.0,159.0Z" fill="#f1f1f1"/>
<ellipse cx="86.0" cy="195.0" rx="4.0" ry="5.5" fill="#f1f1f1"/>
<ellipse cx="104.0" cy="201.0" rx="6.0" ry="4.5" fill="#f1f1f1"/>
<path d="M89.0,212.0 C90.5,209.8 94.7,208.5 97.0,209.0 C99.3,209.5 102.2,211.8 103.0,215.0 C103.8,218.2 102.8,224.5 102.0,228.0 C101.2,231.5 99.7,235.3 98.0,236.0 C96.3,236.7 93.7,234.3 92.0,232.0 C90.3,229.7 88.5,225.3 88.0,222.0 C87.5,218.7 87.5,214.2 89.0,212.0Z" fill="#f1f1f1"/>
<path d="M106.0,212.0 C108.0,210.7 114.3,210.3 118.0,214.0 C121.7,217.7 125.3,228.7 128.0,234.0 C130.7,239.3 135.0,244.0 134.0,246.0 C133.0,248.0 125.7,248.0 122.0,246.0 C118.3,244.0 114.7,238.0 112.0,234.0 C109.3,230.0 107.0,225.7 106.0,222.0 C105.0,218.3 104.0,213.3 106.0,212.0Z" fill="#f1f1f1"/>
<ellipse cx="144.0" cy="178.0" rx="6.0" ry="2.5" fill="#f1f1f1"/>
<ellipse cx="114.5" cy="260.0" rx="4.5" ry="5.0" fill="#f1f1f1"/>
<ellipse cx="145.0" cy="270.0" rx="4.5" ry="7.0" fill="#f1f1f1"/>
<path d="M432.0,170.0 C433.7,167.7 437.7,167.7 440.0,168.0 C442.3,168.3 444.8,169.7 446.0,172.0 C447.2,174.3 447.7,179.0 447.0,182.0 C446.3,185.0 444.2,188.7 442.0,190.0 C439.8,191.3 436.0,191.3 434.0,190.0 C432.0,188.7 430.3,185.3 430.0,182.0 C429.7,178.7 430.3,172.3 432.0,170.0Z" fill="#c7eae5"/>
<ellipse cx="422.0" cy="186.0" rx="5.0" ry="3.0" fill="#c7eae5"/>
<ellipse cx="294.5" cy="347.0" rx="5.5" ry="5.0" fill="#c7eae5"/>
<ellipse cx="392.0" cy="346.0" rx="3.0" ry="2.0" fill="#b4b4b4"/>
<path d="M362.0,135.0 C365.0,132.8 369.5,134.0 375.0,135.0 C380.5,136.0 390.7,138.8 395.0,141.0 C399.3,143.2 400.2,145.2 401.0,148.0 C401.8,150.8 400.2,154.7 400.0,158.0 C399.8,161.3 400.7,164.7 400.0,168.0 C399.3,171.3 398.0,175.3 396.0,178.0 C394.0,180.7 390.7,182.7 388.0,184.0 C385.3,185.3 382.3,186.3 380.0,186.0 C377.7,185.7 375.7,184.3 374.0,182.0 C372.3,179.7 371.7,175.0 370.0,172.0 C368.3,169.0 366.0,166.3 364.0,164.0 C362.0,161.7 359.2,160.7 358.0,158.0 C356.8,155.3 356.3,151.8 357.0,148.0 C357.7,144.2 359.0,137.2 362.0,135.0Z" fill="#c7eae5"/>
<ellipse cx="367.0" cy="146.0" rx="6.0" ry="5.0" fill="#f1f1f1"/>
<ellipse cx="363.0" cy="158.0" rx="3.5" ry="3.0" fill="#f1f1f1"/>
<ellipse cx="392.0" cy="160.0" rx="3.0" ry="4.0" fill="#f1f1f1"/>
<path d="M384.0,172.0 C386.0,170.3 389.7,168.0 392.0,168.0 C394.3,168.0 396.7,170.0 398.0,172.0 C399.3,174.0 400.0,177.3 400.0,180.0 C400.0,182.7 398.0,185.3 398.0,188.0 C398.0,190.7 400.3,193.3 400.0,196.0 C399.7,198.7 397.7,202.7 396.0,204.0 C394.3,205.3 391.7,205.0 390.0,204.0 C388.3,203.0 386.3,200.3 386.0,198.0 C385.7,195.7 388.7,192.0 388.0,190.0 C387.3,188.0 383.3,188.0 382.0,186.0 C380.7,184.0 379.7,180.3 380.0,178.0 C380.3,175.7 382.0,173.7 384.0,172.0Z" fill="#f6e8c3"/>
<ellipse cx="412.0" cy="199.0" rx="5.0" ry="5.0" fill="#f6e8c3"/>
<path d="M172.0,153.0 C173.7,152.0 178.3,151.8 182.0,152.0 C185.7,152.2 191.7,152.7 194.0,154.0 C196.3,155.3 197.0,158.3 196.0,160.0 C195.0,161.7 191.3,163.5 188.0,164.0 C184.7,164.5 178.7,164.0 176.0,163.0 C173.3,162.0 172.7,159.7 172.0,158.0 C171.3,156.3 170.3,154.0 172.0,153.0Z" fill="#f1f1f1"/>
<ellipse cx="169.0" cy="148.0" rx="3.0" ry="3.5" fill="#f1f1f1"/>
<ellipse cx="185.0" cy="116.0" rx="5.0" ry="6.0" fill="#f1f1f1"/>
<ellipse cx="223.0" cy="220.0" rx="3.0" ry="3.0" fill="#f1f1f1"/>
<ellipse cx="257.0" cy="210.0" rx="3.0" ry="2.5" fill="#f1f1f1"/>
<ellipse cx="238.0" cy="230.0" rx="3.0" ry="2.5" fill="#f1f1f1"/>
<path d="M230.0,234.0 C231.3,231.7 236.7,231.7 240.0,232.0 C243.3,232.3 248.3,234.0 250.0,236.0 C251.7,238.0 251.7,242.0 250.0,244.0 C248.3,246.0 243.0,247.7 240.0,248.0 C237.0,248.3 233.7,248.3 232.0,246.0 C230.3,243.7 228.7,236.3 230.0,234.0Z" fill="#f1f1f1"/>
<ellipse cx="219.0" cy="244.0" rx="5.0" ry="3.0" fill="#f1f1f1"/>
<ellipse cx="262.0" cy="246.0" rx="5.0" ry="4.0" fill="#f1f1f1"/>
<ellipse cx="321.0" cy="197.0" rx="4.0" ry="4.0" fill="#f1f1f1"/>
<path d="M300.0,232.0 C301.2,230.2 305.7,229.0 308.0,229.0 C310.3,229.0 313.0,230.2 314.0,232.0 C315.0,233.8 315.0,238.2 314.0,240.0 C313.0,241.8 310.2,243.0 308.0,243.0 C305.8,243.0 302.3,241.8 301.0,240.0 C299.7,238.2 298.8,233.8 300.0,232.0Z" fill="#f1f1f1"/>
<path d="M307.0,243.0 C308.3,241.3 312.8,240.8 316.0,241.0 C319.2,241.2 324.3,242.3 326.0,244.0 C327.7,245.7 327.7,249.3 326.0,251.0 C324.3,252.7 319.0,254.0 316.0,254.0 C313.0,254.0 309.5,252.8 308.0,251.0 C306.5,249.2 305.7,244.7 307.0,243.0Z" fill="#f1f1f1"/>
<path d="M322.0,235.0 C323.2,233.5 328.0,232.5 330.0,233.0 C332.0,233.5 334.0,236.3 334.0,238.0 C334.0,239.7 331.8,242.3 330.0,243.0 C328.2,243.7 324.3,243.3 323.0,242.0 C321.7,240.7 320.8,236.5 322.0,235.0Z" fill="#f1f1f1"/>
<path d="M260.0,318.0 C261.2,316.0 266.2,316.2 268.0,317.0 C269.8,317.8 271.0,320.8 271.0,323.0 C271.0,325.2 269.7,329.0 268.0,330.0 C266.3,331.0 262.3,331.0 261.0,329.0 C259.7,327.0 258.8,320.0 260.0,318.0Z" fill="#f1f1f1"/>
<path d="M326.0,304.0 C327.3,302.7 331.7,301.7 334.0,302.0 C336.3,302.3 339.3,304.2 340.0,306.0 C340.7,307.8 339.7,311.7 338.0,313.0 C336.3,314.3 332.0,314.5 330.0,314.0 C328.0,313.5 326.7,311.7 326.0,310.0 C325.3,308.3 324.7,305.3 326.0,304.0Z" fill="#f1f1f1"/>
<ellipse cx="422.0" cy="199.0" rx="6.0" ry="4.0" fill="#f1f1f1"/>
<ellipse cx="452.0" cy="205.0" rx="4.0" ry="3.5" fill="#f1f1f1"/>
<ellipse cx="440.0" cy="201.0" rx="3.0" ry="3.0" fill="#f1f1f1"/>
<path d="M126.0,139.0 C126.3,137.5 128.3,134.3 130.0,133.0 C131.7,131.7 134.3,132.3 136.0,131.0 C137.7,129.7 138.0,125.8 140.0,125.0 C142.0,124.2 145.7,125.3 148.0,126.0 C150.3,126.7 153.2,127.2 154.0,129.0 C154.8,130.8 154.3,134.7 153.0,137.0 C151.7,139.3 148.8,141.8 146.0,143.0 C143.2,144.2 139.0,144.2 136.0,144.0 C133.0,143.8 129.7,142.8 128.0,142.0 C126.3,141.2 125.7,140.5 126.0,139.0Z" fill="#d8b365"/>
<path d="M93.0,142.0 C93.7,140.2 96.8,138.3 99.0,138.0 C101.2,137.7 105.0,138.5 106.0,140.0 C107.0,141.5 106.0,145.2 105.0,147.0 C104.0,148.8 101.7,150.7 100.0,151.0 C98.3,151.3 96.2,150.5 95.0,149.0 C93.8,147.5 92.3,143.8 93.0,142.0Z" fill="#d8b365"/>
<ellipse cx="109.5" cy="131.0" rx="2.5" ry="2.0" fill="#d8b365"/>
<ellipse cx="109.0" cy="115.5" rx="2.0" ry="1.5" fill="#d8b365"/>
<ellipse cx="123.0" cy="152.0" rx="2.5" ry="7.0" fill="#d8b365" transform="rotate(-10.0 123.0 152.0)"/>
<ellipse cx="160.5" cy="138.5" rx="9.5" ry="7.5" fill="#d8b365"/>
<ellipse cx="187.5" cy="131.0" rx="3.5" ry="2.0" fill="#d8b365"/>
<ellipse cx="210.0" cy="112.5" rx="3.5" ry="2.5" fill="#d8b365"/>
<path d="M163.0,170.0 C163.0,167.8 165.8,165.7 168.0,165.0 C170.2,164.3 173.8,164.8 176.0,166.0 C178.2,167.2 180.3,169.5 181.0,172.0 C181.7,174.5 181.2,179.3 180.0,181.0 C178.8,182.7 176.0,182.5 174.0,182.0 C172.0,181.5 169.8,180.0 168.0,178.0 C166.2,176.0 163.0,172.2 163.0,170.0Z" fill="#d8b365"/>
<path d="M170.0,164.0 C171.3,162.3 176.7,162.0 180.0,162.0 C183.3,162.0 187.3,162.7 190.0,164.0 C192.7,165.3 195.3,167.3 196.0,170.0 C196.7,172.7 196.0,178.0 194.0,180.0 C192.0,182.0 187.0,182.3 184.0,182.0 C181.0,181.7 178.0,179.7 176.0,178.0 C174.0,176.3 173.0,174.3 172.0,172.0 C171.0,169.7 168.7,165.7 170.0,164.0Z" fill="#d8b365"/>
<path d="M170.0,181.0 C171.7,180.0 177.7,180.5 180.0,182.0 C182.3,183.5 184.0,187.5 184.0,190.0 C184.0,192.5 182.0,196.2 180.0,197.0 C178.0,197.8 173.7,196.5 172.0,195.0 C170.3,193.5 170.3,190.3 170.0,188.0 C169.7,185.7 168.3,182.0 170.0,181.0Z" fill="#d8b365"/>
<path d="M139.0,242.0 C139.5,238.8 141.5,233.8 143.0,231.0 C144.5,228.2 146.2,225.8 148.0,225.0 C149.8,224.2 152.7,224.3 154.0,226.0 C155.3,227.7 156.3,231.7 156.0,235.0 C155.7,238.3 153.7,243.2 152.0,246.0 C150.3,248.8 148.0,251.3 146.0,252.0 C144.0,252.7 141.2,251.7 140.0,250.0 C138.8,248.3 138.5,245.2 139.0,242.0Z" fill="#d8b365"/>
<ellipse cx="128.5" cy="268.0" rx="3.5" ry="5.0" fill="#d8b365"/>
<path d="M135.0,245.0 C136.2,243.7 145.2,243.8 147.0,245.0 C148.8,246.2 147.2,250.7 146.0,252.0 C144.8,253.3 141.8,254.2 140.0,253.0 C138.2,251.8 133.8,246.3 135.0,245.0Z" fill="#d8b365"/>
<ellipse cx="89.0" cy="177.0" rx="1.5" ry="2.0" fill="#d8b365"/>
<ellipse cx="97.0" cy="193.0" rx="1.0" ry="1.0" fill="#d8b365"/>
<ellipse cx="94.0" cy="204.0" rx="3.0" ry="2.0" fill="#d8b365" transform="rotate(30.0 94.0 204.0)"/>
<path d="M266.0,182.0 C268.5,182.3 273.8,184.8 276.0,187.0 C278.2,189.2 279.0,192.3 279.0,195.0 C279.0,197.7 277.5,201.0 276.0,203.0 C274.5,205.0 272.0,206.7 270.0,207.0 C268.0,207.3 266.0,205.3 264.0,205.0 C262.0,204.7 260.3,205.3 258.0,205.0 C255.7,204.7 251.7,204.2 250.0,203.0 C248.3,201.8 247.3,199.7 248.0,198.0 C248.7,196.3 252.3,194.5 254.0,193.0 C255.7,191.5 256.8,190.3 258.0,189.0 C259.2,187.7 259.7,186.2 261.0,185.0 C262.3,183.8 263.5,181.7 266.0,182.0Z" fill="#d8b365"/>
<ellipse cx="239.0" cy="197.0" rx="3.0" ry="5.0" fill="#d8b365"/>
<path d="M250.0,215.0 C251.8,213.3 255.8,212.3 258.0,213.0 C260.2,213.7 262.0,217.2 263.0,219.0 C264.0,220.8 264.8,222.8 264.0,224.0 C263.2,225.2 259.7,224.8 258.0,226.0 C256.3,227.2 255.7,230.2 254.0,231.0 C252.3,231.8 249.2,232.3 248.0,231.0 C246.8,229.7 246.7,225.7 247.0,223.0 C247.3,220.3 248.2,216.7 250.0,215.0Z" fill="#d8b365"/>
<path d="M236.0,204.0 C237.0,202.7 243.3,203.0 246.0,204.0 C248.7,205.0 251.7,208.0 252.0,210.0 C252.3,212.0 250.0,215.7 248.0,216.0 C246.0,216.3 242.0,214.0 240.0,212.0 C238.0,210.0 235.0,205.3 236.0,204.0Z" fill="#d8b365"/>
<ellipse cx="219.5" cy="232.5" rx="3.5" ry="3.5" fill="#d8b365"/>
<ellipse cx="293.0" cy="199.0" rx="3.0" ry="3.5" fill="#d8b365"/>
<path d="M300.0,200.0 C300.7,197.0 304.0,194.3 306.0,194.0 C308.0,193.7 310.0,196.3 312.0,198.0 C314.0,199.7 317.3,201.7 318.0,204.0 C318.7,206.3 317.7,210.0 316.0,212.0 C314.3,214.0 310.3,216.0 308.0,216.0 C305.7,216.0 303.3,214.7 302.0,212.0 C300.7,209.3 299.3,203.0 300.0,200.0Z" fill="#d8b365"/>
<ellipse cx="293.0" cy="199.0" rx="3.0" ry="3.5" fill="#d8b365"/>
<ellipse cx="386.0" cy="185.5" rx="2.0" ry="2.5" fill="#d8b365"/>
<ellipse cx="513.0" cy="177.0" rx="2.0" ry="2.0" fill="#d8b365"/>
<path d="M285.0,368.0 C285.7,366.4 289.5,366.4 292.0,366.4 C294.5,366.4 297.8,366.4 300.0,368.0 C302.2,369.6 304.2,373.7 305.0,376.0 C305.8,378.3 305.8,380.7 305.0,382.0 C304.2,383.3 299.5,383.0 300.0,384.0 C300.5,385.0 306.7,386.7 308.0,388.0 C309.3,389.3 309.0,390.8 308.0,392.0 C307.0,393.2 303.8,394.7 302.0,395.0 C300.2,395.3 298.3,395.5 297.0,394.0 C295.7,392.5 295.5,389.0 294.0,386.0 C292.5,383.0 289.5,379.0 288.0,376.0 C286.5,373.0 284.3,369.6 285.0,368.0Z" fill="#d8b365"/>
<ellipse cx="322.5" cy="356.0" rx="2.5" ry="2.0" fill="#d8b365"/>
<path d="M469.0,337.0 C469.7,335.7 472.2,334.2 474.0,334.0 C475.8,333.8 478.5,334.3 480.0,336.0 C481.5,337.7 481.8,341.3 483.0,344.0 C484.2,346.7 486.0,349.3 487.0,352.0 C488.0,354.7 489.0,357.7 489.0,360.0 C489.0,362.3 488.2,364.7 487.0,366.0 C485.8,367.3 483.7,368.2 482.0,368.0 C480.3,367.8 478.0,366.7 477.0,365.0 C476.0,363.3 475.8,360.2 476.0,358.0 C476.2,355.8 478.2,354.0 478.0,352.0 C477.8,350.0 476.3,347.7 475.0,346.0 C473.7,344.3 471.0,343.5 470.0,342.0 C469.0,340.5 468.3,338.3 469.0,337.0Z" fill="#d8b365"/>
<path d="M487.0,372.0 C488.0,370.3 490.3,368.8 492.0,369.0 C493.7,369.2 496.0,371.5 497.0,373.0 C498.0,374.5 498.7,376.7 498.0,378.0 C497.3,379.3 494.2,379.5 493.0,381.0 C491.8,382.5 492.0,386.2 491.0,387.0 C490.0,387.8 487.8,387.3 487.0,386.0 C486.2,384.7 486.0,381.3 486.0,379.0 C486.0,376.7 486.0,373.7 487.0,372.0Z" fill="#d8b365"/>
<ellipse cx="496.0" cy="396.5" rx="3.0" ry="1.5" fill="#d8b365"/>
<ellipse cx="468.0" cy="339.0" rx="3.0" ry="4.0" fill="#d8b365"/>
<ellipse cx="472.0" cy="337.0" rx="3.0" ry="3.0" fill="#d8b365"/>
<ellipse cx="526.0" cy="260.5" rx="2.0" ry="1.5" fill="#d8b365"/>
<ellipse cx="230.0" cy="138.0" rx="10.0" ry="8.0" fill="#5ab4ac"/>
<path d="M257.0,146.0 C257.7,145.0 260.3,144.3 263.0,143.0 C265.7,141.7 270.2,139.0 273.0,138.0 C275.8,137.0 278.5,136.2 280.0,137.0 C281.5,137.8 282.5,141.0 282.0,143.0 C281.5,145.0 279.5,147.8 277.0,149.0 C274.5,150.2 270.0,150.0 267.0,150.0 C264.0,150.0 260.7,149.7 259.0,149.0 C257.3,148.3 256.3,147.0 257.0,146.0Z" fill="#5ab4ac"/>
<ellipse cx="284.0" cy="156.0" rx="1.8" ry="1.8" fill="#5ab4ac"/>
<ellipse cx="214.0" cy="137.5" rx="3.0" ry="2.5" fill="#5ab4ac"/>
<ellipse cx="306.0" cy="129.6" rx="8.0" ry="9.0" fill="#5ab4ac"/>
<path d="M351.0,112.0 C351.7,110.3 355.0,109.8 357.0,110.0 C359.0,110.2 360.7,112.0 363.0,113.0 C365.3,114.0 367.7,115.7 371.0,116.0 C374.3,116.3 382.3,114.3 383.0,115.0 C383.7,115.7 377.7,118.7 375.0,120.0 C372.3,121.3 369.7,122.2 367.0,123.0 C364.3,123.8 361.3,125.1 359.0,124.6 C356.7,124.1 354.3,122.1 353.0,120.0 C351.7,117.9 350.3,113.7 351.0,112.0Z" fill="#5ab4ac"/>
<ellipse cx="331.5" cy="130.5" rx="1.5" ry="3.5" fill="#5ab4ac"/>
<path d="M352.0,180.0 C353.0,178.3 355.7,176.7 358.0,176.0 C360.3,175.3 364.0,175.0 366.0,176.0 C368.0,177.0 370.0,180.0 370.0,182.0 C370.0,184.0 368.0,186.8 366.0,188.0 C364.0,189.2 360.3,189.3 358.0,189.0 C355.7,188.7 353.0,187.5 352.0,186.0 C351.0,184.5 351.0,181.7 352.0,180.0Z" fill="#5ab4ac"/>
<ellipse cx="358.0" cy="172.0" rx="4.0" ry="3.0" fill="#5ab4ac"/>
<path d="M368.0,165.0 C368.3,163.3 370.3,160.3 372.0,159.0 C373.7,157.7 376.7,156.5 378.0,157.0 C379.3,157.5 380.3,160.2 380.0,162.0 C379.7,163.8 377.7,166.8 376.0,168.0 C374.3,169.2 371.3,169.5 370.0,169.0 C368.7,168.5 367.7,166.7 368.0,165.0Z" fill="#5ab4ac"/>
<path d="M545.0,99.0 C545.3,97.8 545.3,95.3 547.0,94.0 C548.7,92.7 553.0,91.2 555.0,91.0 C557.0,90.8 557.7,90.7 559.0,93.0 C560.3,95.3 562.8,103.2 563.0,105.0 C563.2,106.8 561.0,104.8 560.0,104.0 C559.0,103.2 558.7,100.5 557.0,100.0 C555.3,99.5 552.0,100.8 550.0,101.0 C548.0,101.2 545.8,101.3 545.0,101.0 C544.2,100.7 544.7,100.2 545.0,99.0Z" fill="#5ab4ac"/>
<ellipse cx="571.0" cy="117.0" rx="3.0" ry="4.0" fill="#5ab4ac"/>
<path d="M266.0,289.0 C265.8,287.0 267.5,283.0 269.0,281.0 C270.5,279.0 272.5,278.2 275.0,277.0 C277.5,275.8 281.2,274.5 284.0,274.0 C286.8,273.5 290.2,274.8 292.0,274.0 C293.8,273.2 293.7,270.8 295.0,269.0 C296.3,267.2 298.5,264.5 300.0,263.0 C301.5,261.5 302.0,260.8 304.0,260.0 C306.0,259.2 309.3,258.3 312.0,258.0 C314.7,257.7 317.3,258.0 320.0,258.0 C322.7,258.0 325.7,258.5 328.0,258.0 C330.3,257.5 332.2,256.5 334.0,255.0 C335.8,253.5 337.7,250.8 339.0,249.0 C340.3,247.2 340.5,245.7 342.0,244.0 C343.5,242.3 346.0,240.5 348.0,239.0 C350.0,237.5 352.0,235.8 354.0,235.0 C356.0,234.2 358.0,233.7 360.0,234.0 C362.0,234.3 364.0,237.0 366.0,237.0 C368.0,237.0 370.0,235.0 372.0,234.0 C374.0,233.0 376.0,232.0 378.0,231.0 C380.0,230.0 382.0,228.8 384.0,228.0 C386.0,227.2 388.2,226.2 390.0,226.0 C391.8,225.8 393.2,227.2 395.0,227.0 C396.8,226.8 399.2,225.7 401.0,225.0 C402.8,224.3 404.5,224.2 406.0,223.0 C407.5,221.8 408.3,219.0 410.0,218.0 C411.7,217.0 413.8,217.7 416.0,217.0 C418.2,216.3 420.7,214.7 423.0,214.0 C425.3,213.3 428.2,213.8 430.0,213.0 C431.8,212.2 432.0,210.0 434.0,209.0 C436.0,208.0 440.2,206.8 442.0,207.0 C443.8,207.2 444.7,208.7 445.0,210.0 C445.3,211.3 445.2,213.8 444.0,215.0 C442.8,216.2 439.5,216.0 438.0,217.0 C436.5,218.0 434.7,219.7 435.0,221.0 C435.3,222.3 437.8,224.7 440.0,225.0 C442.2,225.3 445.7,223.7 448.0,223.0 C450.3,222.3 452.2,222.0 454.0,221.0 C455.8,220.0 457.7,218.2 459.0,217.0 C460.3,215.8 461.0,214.3 462.0,214.0 C463.0,213.7 464.8,214.2 465.0,215.0 C465.2,215.8 463.8,217.3 463.0,219.0 C462.2,220.7 461.0,223.0 460.0,225.0 C459.0,227.0 457.8,229.0 457.0,231.0 C456.2,233.0 455.7,235.2 455.0,237.0 C454.3,238.8 454.0,240.5 453.0,242.0 C452.0,243.5 450.5,244.8 449.0,246.0 C447.5,247.2 445.8,248.0 444.0,249.0 C442.2,250.0 440.0,251.0 438.0,252.0 C436.0,253.0 433.8,253.7 432.0,255.0 C430.2,256.3 427.8,258.0 427.0,260.0 C426.2,262.0 427.5,265.0 427.0,267.0 C426.5,269.0 425.3,271.5 424.0,272.0 C422.7,272.5 420.7,270.0 419.0,270.0 C417.3,270.0 415.8,271.2 414.0,272.0 C412.2,272.8 409.7,273.8 408.0,275.0 C406.3,276.2 405.3,277.7 404.0,279.0 C402.7,280.3 401.3,282.8 400.0,283.0 C398.7,283.2 397.5,281.7 396.0,280.0 C394.5,278.3 392.3,272.7 391.0,273.0 C389.7,273.3 388.7,280.2 388.0,282.0 C387.3,283.8 388.0,282.3 387.0,284.0 C386.0,285.7 383.5,289.3 382.0,292.0 C380.5,294.7 380.0,297.3 378.0,300.0 C376.0,302.7 373.0,306.3 370.0,308.0 C367.0,309.7 363.3,310.3 360.0,310.0 C356.7,309.7 352.3,307.0 350.0,306.0 C347.7,305.0 346.7,305.7 346.0,304.0 C345.3,302.3 346.2,298.0 346.0,296.0 C345.8,294.0 345.7,293.3 345.0,292.0 C344.3,290.7 343.8,288.7 342.0,288.0 C340.2,287.3 336.7,287.5 334.0,288.0 C331.3,288.5 328.3,289.7 326.0,291.0 C323.7,292.3 321.3,294.2 320.0,296.0 C318.7,297.8 318.7,300.3 318.0,302.0 C317.3,303.7 317.0,304.3 316.0,306.0 C315.0,307.7 313.7,310.3 312.0,312.0 C310.3,313.7 308.0,314.5 306.0,316.0 C304.0,317.5 302.0,319.5 300.0,321.0 C298.0,322.5 296.5,324.7 294.0,325.0 C291.5,325.3 286.8,324.2 285.0,323.0 C283.2,321.8 282.8,319.8 283.0,318.0 C283.2,316.2 285.2,314.2 286.0,312.0 C286.8,309.8 288.3,306.8 288.0,305.0 C287.7,303.2 285.0,303.3 284.0,301.0 C283.0,298.7 282.8,292.5 282.0,291.0 C281.2,289.5 279.7,290.3 279.0,292.0 C278.3,293.7 278.0,298.2 278.0,301.0 C278.0,303.8 279.3,307.3 279.0,309.0 C278.7,310.7 276.8,311.7 276.0,311.0 C275.2,310.3 274.2,307.3 274.0,305.0 C273.8,302.7 275.7,299.0 275.0,297.0 C274.3,295.0 271.5,294.3 270.0,293.0 C268.5,291.7 266.2,291.0 266.0,289.0Z" fill="#5ab4ac"/>
<path d="M349.0,281.0 C350.0,278.2 351.5,277.2 354.0,276.0 C356.5,274.8 361.2,273.8 364.0,274.0 C366.8,274.2 369.7,275.7 371.0,277.0 C372.3,278.3 372.8,280.8 372.0,282.0 C371.2,283.2 368.0,282.8 366.0,284.0 C364.0,285.2 362.0,287.5 360.0,289.0 C358.0,290.5 355.7,291.3 354.0,293.0 C352.3,294.7 351.0,299.0 350.0,299.0 C349.0,299.0 348.2,296.0 348.0,293.0 C347.8,290.0 348.0,283.8 349.0,281.0Z" fill="#c7eae5"/>
<ellipse cx="353.0" cy="250.5" rx="4.0" ry="3.5" fill="#c7eae5"/>
<ellipse cx="424.5" cy="228.5" rx="2.5" ry="2.5" fill="#f1f1f1"/>
<ellipse cx="464.0" cy="195.0" rx="4.0" ry="4.0" fill="#5ab4ac"/>
<ellipse cx="482.5" cy="202.5" rx="2.5" ry="2.5" fill="#5ab4ac"/>
<ellipse cx="248.5" cy="287.5" rx="5.5" ry="5.0" fill="#5ab4ac" transform="rotate(30.0 248.5 287.5)"/>
<ellipse cx="276.0" cy="329.0" rx="3.0" ry="6.0" fill="#5ab4ac"/>
<ellipse cx="327.5" cy="326.0" rx="4.5" ry="4.0" fill="#5ab4ac"/>
<ellipse cx="276.5" cy="330.0" rx="3.5" ry="7.0" fill="#5ab4ac"/>
<ellipse cx="191.0" cy="269.0" rx="3.0" ry="7.0" fill="#5ab4ac"/>
<ellipse cx="348.0" cy="309.0" rx="3.0" ry="3.0" fill="#5ab4ac"/>
<ellipse cx="168.0" cy="170.0" rx="1.5" ry="1.0" fill="#8c510a"/>
<path d="M291.0,294.0 C291.7,292.7 293.0,292.7 295.0,292.0 C297.0,291.3 301.2,291.5 303.0,290.0 C304.8,288.5 304.5,284.7 306.0,283.0 C307.5,281.3 309.7,280.7 312.0,280.0 C314.3,279.3 317.2,278.7 320.0,279.0 C322.8,279.3 328.3,280.7 329.0,282.0 C329.7,283.3 325.8,285.5 324.0,287.0 C322.2,288.5 319.7,289.3 318.0,291.0 C316.3,292.7 315.2,295.7 314.0,297.0 C312.8,298.3 312.2,298.0 311.0,299.0 C309.8,300.0 308.5,301.7 307.0,303.0 C305.5,304.3 304.0,306.7 302.0,307.0 C300.0,307.3 296.8,306.2 295.0,305.0 C293.2,303.8 291.7,301.8 291.0,300.0 C290.3,298.2 290.3,295.3 291.0,294.0Z" fill="#01665e"/>
<ellipse cx="355.5" cy="298.5" rx="1.5" ry="1.5" fill="#01665e"/>
<ellipse cx="334.5" cy="265.5" rx="3.5" ry="5.5" fill="#01665e"/>
<path d="M394.5,232.5 C395.6,231.3 399.9,231.3 401.0,232.5 C402.1,233.7 402.1,238.3 401.0,239.5 C399.9,240.7 395.6,240.7 394.5,239.5 C393.4,238.3 393.4,233.7 394.5,232.5Z" fill="#01665e"/>
<path d="M178.0,186.0 C178.2,184.5 180.0,183.7 181.0,184.0 C182.0,184.3 183.0,186.7 184.0,188.0 C185.0,189.3 186.7,190.3 187.0,192.0 C187.3,193.7 186.8,197.0 186.0,198.0 C185.2,199.0 183.0,198.8 182.0,198.0 C181.0,197.2 180.7,195.0 180.0,193.0 C179.3,191.0 177.8,187.5 178.0,186.0Z" fill="#b4b4b4"/>
<path d="M124.0,251.0 C124.8,249.0 128.3,244.7 130.0,245.0 C131.7,245.3 133.0,249.7 134.0,253.0 C135.0,256.3 135.5,261.3 136.0,265.0 C136.5,268.7 136.3,272.3 137.0,275.0 C137.7,277.7 138.7,279.3 140.0,281.0 C141.3,282.7 144.0,282.8 145.0,285.0 C146.0,287.2 147.8,292.5 146.0,294.0 C144.2,295.5 135.8,295.2 134.0,294.0 C132.2,292.8 135.3,289.2 135.0,287.0 C134.7,284.8 132.8,283.3 132.0,281.0 C131.2,278.7 130.7,276.0 130.0,273.0 C129.3,270.0 128.8,265.7 128.0,263.0 C127.2,260.3 125.7,259.0 125.0,257.0 C124.3,255.0 123.2,253.0 124.0,251.0Z" fill="#b4b4b4"/>
<path d="M146.0,288.0 C146.7,287.3 148.8,289.2 150.0,291.0 C151.2,292.8 152.3,296.7 153.0,299.0 C153.7,301.3 155.8,305.2 154.0,305.0 C152.2,304.8 143.3,299.7 142.0,298.0 C140.7,296.3 145.3,296.7 146.0,295.0 C146.7,293.3 145.3,288.7 146.0,288.0Z" fill="#b4b4b4"/>
<ellipse cx="493.5" cy="375.5" rx="2.5" ry="2.5" fill="#b4b4b4"/>
<ellipse cx="148.0" cy="232.0" rx="1.2" ry="1.2" fill="#b4b4b4"/>
</g>
<g fill="none" stroke="#141414" stroke-width="0.85" stroke-linejoin="round" stroke-linecap="round">
<path d="M118.0,73.5 L134.0,77.8 L150.0,82.0 L164.0,86.0 L170.0,88.0 L185.0,91.7 L200.0,95.0 L215.0,98.0 L230.0,100.6 L248.0,102.4 L266.0,103.6 L290.0,104.4 L321.0,105.6 L337.0,105.6 L337.0,101.0 L339.4,101.0 L340.0,107.0 L350.0,111.0 L359.0,110.6 L361.0,113.0 L370.0,114.6 L372.0,113.0 L378.0,116.0 L384.0,117.0 L400.0,120.0 L428.0,133.0 L440.0,150.0 L451.0,174.0 L447.0,183.0 L445.0,189.0 L462.0,180.0 L480.0,167.0 L475.0,163.0 L490.0,155.0 L501.0,146.0 L508.0,137.0 L514.0,134.0 L522.0,133.0 L537.0,128.0 L538.0,125.0 L540.0,122.0 L542.7,117.0 L543.5,110.0 L545.2,100.0 L546.9,93.4 L551.0,95.0 L555.4,90.8 L559.6,93.4 L562.0,101.8 L566.4,110.3 L572.3,117.0 L574.8,119.6 L572.3,122.0 L568.0,124.7 L565.5,128.0 L561.3,130.6 L558.8,134.8 L555.4,137.4 L552.0,140.8 L551.0,144.0 L549.0,150.0 L550.0,155.0 L553.0,160.0 L551.0,163.0 L554.0,166.0 L558.0,163.0 L560.0,165.0 L557.0,168.0 L554.0,170.0 L550.0,170.0 L548.0,172.0 L545.0,174.0 L539.0,177.0 L532.0,182.0 L528.0,185.0 L527.4,190.0 L529.3,195.0 L528.7,201.4 L526.8,206.4 L524.9,210.2 L521.7,209.0 L518.0,204.0 L518.6,209.0 L521.7,213.4 L524.2,216.5 L524.5,221.6 L523.0,226.7 L521.0,231.7 L519.8,236.8 L520.0,241.0 L521.0,244.4 L523.8,248.7 L527.0,253.0 L528.7,256.2 L529.0,259.0 L524.0,265.0 L521.0,270.0 L514.0,275.0 L508.0,282.0 L502.0,285.0 L498.0,291.0 L494.0,297.0 L489.0,303.0 L484.0,309.0 L482.0,315.0 L480.0,323.0 L480.0,329.0 L482.0,336.0 L485.0,342.0 L489.0,350.0 L493.0,357.0 L496.0,365.0 L500.0,373.0 L502.0,380.0 L503.6,388.0 L503.0,395.0 L501.0,399.0 L497.0,397.0 L493.0,397.0 L492.0,393.0 L488.0,389.0 L485.0,385.0 L482.0,382.0 L480.0,378.0 L476.0,373.0 L473.0,368.0 L471.0,363.0 L471.0,358.0 L469.0,352.0 L465.0,347.0 L460.0,343.0 L455.0,341.0 L449.0,344.0 L444.0,347.0 L440.0,345.0 L436.0,341.0 L428.0,340.0 L420.0,341.0 L414.0,343.0 L410.0,342.0 L402.0,343.0 L398.0,347.0 L397.0,353.0 L404.0,358.0 L401.0,361.0 L398.0,355.0 L393.0,360.0 L390.0,358.0 L383.0,359.0 L377.0,354.0 L370.0,355.0 L360.0,353.0 L352.0,354.0 L344.0,357.0 L340.0,360.0 L338.0,361.0 L329.0,367.0 L322.0,372.0 L316.0,377.0 L313.0,382.0 L314.0,388.0 L316.0,396.0 L315.0,403.0 L304.0,399.0 L296.0,393.0 L294.0,386.0 L288.0,376.0 L284.0,369.0 L279.0,360.0 L274.0,352.0 L265.0,350.0 L260.0,353.0 L256.0,360.0 L247.0,354.0 L241.0,350.0 L238.0,339.0 L232.0,333.0 L227.0,326.0 L223.0,320.0 L222.0,319.4 L206.0,320.0 L205.6,324.0 L198.0,324.0 L176.0,320.0 L142.0,298.0 L142.0,295.4 L119.0,292.6 L117.0,285.0 L115.0,278.0 L111.0,273.0 L106.0,267.0 L100.0,262.0 L92.0,258.0 L91.0,253.0 L89.0,245.0 L89.0,239.0 L86.0,232.0 L87.0,227.0 L86.0,223.0 L85.0,217.0 L83.0,210.0 L81.0,205.0 L80.0,197.0 L79.0,189.0 L78.0,181.0 L76.0,175.0 L80.0,167.0 L82.0,161.0 L82.0,155.0 L83.0,153.0 L86.0,145.0 L90.0,135.0 L93.0,125.0 L97.0,113.0 L100.0,105.0 L100.0,101.0 L101.5,97.0 L102.5,94.0 L101.0,88.0 L100.5,83.0 L101.5,76.8 L107.0,80.5 L114.0,83.0 L116.0,78.0Z" stroke-width="1" stroke="#000"/>
<path d="M528.0,187.5 L536.0,182.5 L545.0,177.5 L546.0,179.0 L538.0,184.0 L529.0,189.5Z"/>
<path d="M100.0,105.0 L106.5,106.5 L108.5,110.0 L109.0,115.0 L115.0,116.6 L126.0,119.0 L140.0,119.0 L158.0,123.0"/>
<path d="M164.0,86.0 L158.0,119.0 L158.0,123.0 L159.0,129.0 L154.0,135.0 L150.0,143.0 L151.0,145.0 L148.0,160.0 L145.0,173.0"/>
<path d="M82.4,156.6 L119.0,167.4 L145.0,173.0 L170.0,179.0 L197.0,185.0"/>
<path d="M119.0,167.4 L110.6,203.0 L138.0,250.0 L151.0,265.0"/>
<path d="M170.0,179.0 L159.6,243.0"/>
<path d="M159.6,243.0 L180.0,246.5 L207.0,251.0"/>
<path d="M159.6,243.0 L159.0,245.0 L158.0,251.0 L154.0,253.0 L151.0,256.0 L151.0,265.0 L150.0,273.0 L152.0,277.0 L147.0,282.0 L145.0,289.0 L146.0,294.0 L142.0,296.0"/>
<path d="M169.6,87.4 L170.0,99.0 L173.0,108.0 L175.0,113.0 L179.0,118.0 L178.0,125.0 L176.0,129.0 L177.0,134.0 L181.0,135.0 L182.0,141.0 L185.0,146.0 L187.0,150.0 L193.0,151.0 L199.0,150.0 L201.0,152.0 L202.6,147.0"/>
<path d="M202.6,147.0 L202.0,155.0 L197.0,185.0 L195.0,197.0"/>
<path d="M202.6,146.6 L262.6,153.0"/>
<path d="M266.0,103.6 L263.0,142.0 L262.6,153.0 L262.0,160.0 L260.0,180.0 L258.0,205.0"/>
<path d="M263.0,141.6 L290.0,143.3 L325.6,144.4"/>
<path d="M321.0,105.6 L322.0,117.0 L325.0,131.0 L325.6,144.0 L324.0,149.0 L327.0,153.0 L326.6,160.0 L326.0,176.0 L325.6,182.0 L327.0,190.0"/>
<path d="M260.0,180.0 L290.0,181.0 L310.0,183.6 L316.0,185.0 L322.0,187.0 L327.0,190.0"/>
<path d="M327.0,190.0 L329.0,199.0 L331.0,207.0 L332.4,214.0 L335.0,220.0 L339.0,224.0"/>
<path d="M195.0,197.0 L213.0,200.6 L258.0,205.0 L276.0,206.6"/>
<path d="M213.0,200.6 L207.0,251.0"/>
<path d="M276.0,206.6 L275.0,219.4 L273.0,250.0 L273.0,258.6"/>
<path d="M275.0,219.4 L290.0,220.0 L335.0,221.0 L339.0,224.0"/>
<path d="M339.0,224.0 L341.0,230.0 L343.0,232.0 L343.0,245.0 L344.0,266.0 L346.0,304.0"/>
<path d="M273.0,258.6 L310.0,260.0 L343.0,260.4"/>
<path d="M207.0,251.0 L264.0,258.0 L273.0,258.6"/>
<path d="M207.0,251.0 L198.0,324.0"/>
<path d="M264.0,258.0 L263.0,264.4 L259.0,321.0 L223.0,319.4"/>
<path d="M263.0,264.4 L291.0,265.6 L292.0,290.0 L298.0,294.0 L304.0,295.0 L310.0,298.0 L316.0,300.0 L324.0,301.0 L330.0,303.0 L338.0,301.0 L346.0,304.0 L350.0,305.0 L351.0,312.0 L353.0,325.0 L355.0,336.0 L354.0,346.0 L352.0,354.0"/>
<path d="M351.0,312.0 L380.0,311.0"/>
<path d="M344.0,266.0 L387.0,264.6 L386.0,271.0 L391.0,271.0"/>
<path d="M326.0,176.0 L371.0,175.0"/>
<path d="M332.4,214.0 L370.0,212.0 L372.0,215.0"/>
<path d="M362.0,134.6 L361.0,143.0 L357.0,147.0 L358.0,155.0 L359.0,159.0 L367.0,166.0 L371.0,171.0 L372.0,175.0 L374.0,183.0 L378.0,188.0 L382.0,193.0 L381.0,198.0 L376.0,202.0 L375.0,206.0 L376.0,210.0 L372.0,214.0 L373.0,219.0 L377.0,225.0 L380.0,230.0 L384.0,235.0 L383.0,239.0 L386.0,244.0 L388.0,248.0 L390.0,250.0 L392.0,254.0 L396.0,258.0 L393.0,264.0 L391.0,271.0 L390.0,277.0 L387.0,283.0 L385.0,288.0 L382.0,293.0 L380.0,299.0 L381.0,305.0 L379.0,311.0 L381.0,319.0 L378.0,327.0 L376.0,333.0 L376.0,336.0 L394.0,335.0 L395.0,340.0 L398.0,345.0"/>
<path d="M396.0,258.0 L398.0,255.0 L403.0,253.0 L405.0,247.0 L408.0,245.0 L410.0,245.0 L412.0,243.0 L416.0,244.0 L419.0,240.0 L422.0,241.0 L427.0,237.0 L430.0,233.0 L434.0,227.0 L438.0,230.0 L442.0,231.0 L447.0,232.0 L452.0,230.0 L456.0,234.0 L458.0,231.0 L461.0,224.0 L464.0,219.0 L468.0,216.0 L471.0,212.0"/>
<path d="M378.0,135.0 L380.0,137.0 L397.0,142.0 L401.0,149.0 L400.0,158.0"/>
<path d="M378.0,187.0 L402.0,186.0"/>
<path d="M406.4,196.0 L408.0,225.0 L408.0,239.0 L406.0,243.0 L408.0,245.0"/>
<path d="M410.0,194.0 L430.0,192.0 L445.0,191.0"/>
<path d="M431.0,192.0 L434.0,227.0"/>
<path d="M468.6,185.0 L470.0,203.0 L471.0,212.0"/>
<path d="M474.0,181.0 L474.0,182.5 L510.0,174.5 L518.0,173.0"/>
<path d="M518.0,173.0 L519.0,181.0 L518.0,187.0 L522.0,193.0 L520.0,199.0 L517.0,204.0"/>
<path d="M519.0,183.0 L528.0,188.0"/>
<path d="M471.0,212.0 L500.0,207.0 L517.0,204.0"/>
<path d="M516.7,206.4 L519.2,219.7 L524.2,219.3"/>
<path d="M480.6,211.0 L482.5,217.0 L487.0,212.0 L489.0,214.6 L492.6,210.9 L497.0,211.0 L499.0,214.6 L504.0,217.0 L507.0,219.7 L505.0,223.5 L508.4,224.8 L512.0,226.0"/>
<path d="M497.0,211.0 L496.0,217.0 L492.0,225.0 L487.0,231.0 L482.0,235.0 L478.0,243.0 L468.0,247.0 L464.0,245.5"/>
<path d="M456.0,254.0 L460.0,249.0 L464.0,245.5 L460.0,241.0 L456.0,234.0"/>
<path d="M393.0,264.0 L419.0,260.0 L440.0,258.0 L520.6,243.3"/>
<path d="M467.0,256.0 L462.0,261.0 L456.0,265.0 L450.0,270.0 L446.0,275.0 L444.0,277.6"/>
<path d="M387.0,284.0 L440.0,280.0 L444.0,278.0 L455.0,276.6 L460.0,274.0 L473.0,273.0 L490.0,274.6 L503.0,284.0"/>
<path d="M455.0,277.0 L460.0,285.0 L467.0,293.0 L473.0,299.0 L478.0,305.0 L484.0,310.0"/>
<path d="M407.6,283.0 L408.0,333.0 L409.0,342.0"/>
<path d="M433.0,281.0 L441.0,315.0 L442.0,325.0 L445.0,334.0"/>
<path d="M418.0,341.0 L417.0,334.0 L443.0,331.4 L445.0,334.0 L473.0,332.4 L475.0,335.0 L476.0,329.0 L480.0,329.0"/>
<path d="M522.0,133.0 L526.0,149.0 L529.0,159.0 L530.0,181.0"/>
<path d="M537.0,128.0 L535.0,145.0 L533.0,158.0"/>
<path d="M538.0,125.0 L546.9,147.5 L549.0,150.0"/>
<path d="M529.0,159.0 L549.0,155.0"/>
<path d="M529.0,168.0 L547.0,165.0"/>
<path d="M544.0,166.0 L545.0,174.0"/>
<path d="M512.2,207.7 L513.5,215.3 L514.8,222.9 L516.7,230.5 L518.6,238.0 L519.8,240.0"/>
<path d="M513.0,226.0 L510.0,222.0"/>
<path d="M515.0,232.0 L511.0,229.0"/>
<path d="M517.0,237.0 L513.0,235.0"/>
</g>
<path d="M362.0,134.6 L370.0,126.0 L378.0,119.0 L384.0,116.6 L386.0,108.0 L390.0,106.0 L394.0,102.6 L399.0,105.0 L404.0,104.0 L408.0,104.0 L412.0,109.0 L414.0,113.0 L421.0,114.0 L422.0,120.0 L424.0,125.0 L427.0,127.0 L428.0,133.0 L423.0,130.0 L418.0,129.0 L413.0,131.0 L406.0,133.0 L400.0,130.0 L397.0,125.0 L398.0,122.0 L394.0,124.0 L392.0,127.0 L390.0,126.0 L384.0,130.0 L380.0,132.0 L378.0,135.0 L375.0,131.0 L370.0,132.0Z" fill="#8e8e8e"/>
<path d="M423.0,138.0 L425.0,140.0 L423.0,145.0 L419.0,149.0 L416.0,154.0 L414.0,160.0 L414.0,168.0 L416.0,178.0 L417.0,186.0 L416.0,192.0 L412.0,195.5 L408.0,196.4 L405.0,193.0 L403.0,186.0 L402.0,176.0 L403.0,166.0 L404.0,156.0 L407.0,150.0 L410.0,144.0 L407.0,147.0 L403.0,153.0 L399.0,158.0 L398.0,156.0 L402.0,149.0 L406.0,144.0 L412.0,140.0 L418.0,138.0Z" fill="#8e8e8e"/>
<path d="M425.0,139.0 L432.0,141.0 L438.0,145.0 L440.0,152.0 L439.0,158.0 L436.0,162.0 L435.0,166.0 L438.0,165.0 L441.0,161.0 L446.0,160.0 L449.0,166.0 L451.0,174.0 L454.0,168.0 L455.0,160.0 L456.0,152.0 L455.0,147.0 L453.0,143.0 L459.0,149.0 L466.0,150.0 L469.0,147.0 L466.0,142.0 L460.0,136.0 L456.0,134.0 L451.0,132.5 L440.0,132.5 L432.0,132.0 L428.0,133.0Z" fill="#8e8e8e"/>
<path d="M445.0,188.0 L448.0,184.0 L456.0,179.0 L464.0,175.0 L472.0,171.0 L478.0,169.0 L480.0,167.0 L478.0,174.0 L474.0,180.0 L468.0,184.0 L460.0,188.0 L454.0,192.0 L448.0,193.0Z" fill="#8e8e8e"/>
<path d="M472.0,164.0 L475.0,159.0 L482.0,155.0 L490.0,151.0 L498.0,148.0 L501.0,146.0 L502.0,152.0 L498.0,157.0 L490.0,160.0 L482.0,164.0 L475.0,166.0Z" fill="#8e8e8e"/>
<g fill="none" stroke="#000" stroke-width="0.9" stroke-linejoin="round" stroke-linecap="round">
<path d="M362.0,134.6 L370.0,132.0 L375.0,131.0 L378.0,135.0 L380.0,132.0 L384.0,130.0 L390.0,126.0 L392.0,127.0 L394.0,124.0 L398.0,122.0 L397.0,125.0 L400.0,130.0 L406.0,133.0 L413.0,131.0 L418.0,129.0 L423.0,130.0 L428.0,133.0 L430.0,136.0 L425.0,139.0"/>
<path d="M362.0,134.6 L370.0,126.0 L378.0,119.0 L384.0,116.6"/>
<path d="M423.0,138.0 L425.0,140.0 L423.0,145.0 L419.0,149.0 L416.0,154.0 L414.0,160.0 L414.0,168.0 L416.0,178.0 L417.0,186.0 L416.0,192.0 L412.0,195.5 L408.0,196.4 L405.0,193.0 L403.0,186.0 L402.0,176.0 L403.0,166.0 L404.0,156.0 L407.0,150.0 L410.0,144.0 L407.0,147.0 L403.0,153.0 L399.0,158.0 L398.0,156.0 L402.0,149.0 L406.0,144.0 L412.0,140.0 L418.0,138.0 L423.0,138.0"/>
<path d="M425.0,139.0 L432.0,141.0 L438.0,145.0 L440.0,152.0 L439.0,158.0 L436.0,162.0 L435.0,166.0 L438.0,165.0 L441.0,161.0 L446.0,160.0 L449.0,166.0 L451.0,174.0 L447.0,183.0 L445.0,188.0"/>
<path d="M445.0,188.0 L448.0,193.0 L454.0,192.0 L460.0,188.0 L468.0,184.0 L474.0,180.0 L478.0,174.0 L480.0,167.0"/>
<path d="M472.0,164.0 L475.0,166.0 L482.0,164.0 L490.0,160.0 L498.0,157.0 L502.0,152.0 L501.0,146.0"/>
<path d="M520.0,246.0 L516.0,249.0 L519.0,251.0 L515.0,253.0"/>
<path d="M524.0,256.0 L518.0,256.0 L520.0,259.0 L516.0,260.0 L521.0,262.0"/>
<path d="M524.0,265.0 L519.0,266.0 L517.0,268.0"/>
<path d="M514.0,376.0 L519.0,374.0 L525.0,372.4"/>
<path d="M525.0,370.0 L532.0,371.0 L535.6,375.0 L534.0,380.0"/>
<path d="M540.0,385.0 L546.0,388.0 L549.0,392.0"/>
<path d="M553.0,393.0 L559.0,398.0"/>
<path d="M553.0,406.0 L555.0,407.0"/>
<path d="M561.0,405.0 L565.0,409.0"/>
<path d="M569.0,396.0 L569.5,398.0"/>
<path d="M526.0,393.0 L529.0,392.0 L532.0,398.0 L531.0,403.0 L528.0,402.0 L525.0,398.0 L526.0,393.0"/>
<path d="M532.0,403.0 L535.0,404.0 L536.0,409.0 L533.0,409.0 L532.0,403.0"/>
</g>
<path d="M111.5,71 L118,71 L118,74 L116.5,78.5 L113.5,77.5 L111,74.5Z" fill="#a2a2a2"/>
<path d="M118,74 L117.5,80 L116.5,84 L114.5,87 L111.5,91 L110.8,95 L113,96 L116,94.5 L118.5,91 L119,86" fill="none" stroke="#000" stroke-width="1.6" stroke-linejoin="round"/>
<ellipse cx="114.3" cy="92" rx="2.2" ry="1.6" fill="#fff" transform="rotate(-35 114.3 92)"/>
<path d="M99,98 L101.5,97 M100,101 L102,100.5 M84,211 L87,210.5 L90.5,212 L92.5,213.5 M86,211 L86.5,215.5" fill="none" stroke="#000" stroke-width="1.1" stroke-linecap="round"/>
<path d="M398,347 L397,353 L404,358 L401,361 L398,355 L393,360 L390,358 L383,359" fill="none" stroke="#000" stroke-width="1.3" stroke-linejoin="round"/>
<path d="M338,361 L329,367 L322,372 L316,377 L313,382 L314,388 L316,396 L315,403" fill="none" stroke="#000" stroke-width="1.3" stroke-linejoin="round"/>
<path d="M574.8,119.6 L572.3,122 L568,124.7 L565.5,128 L561.3,130.6 L558.8,134.8 L555.4,137.4 L552,140.8" fill="none" stroke="#000" stroke-width="1.3" stroke-linejoin="round"/>
<path d="M512.2,207.7 L513.5,215.3 L514.8,222.9 L516.7,230.5 L518.6,238 L519.8,240 M513,226 L510,222 M515,232 L511,229 M517,237 L513,235 M516,212 L517.5,220 L518.5,228 L520,236" fill="none" stroke="#000" stroke-width="1.1" stroke-linecap="round" stroke-linejoin="round"/>
<path d="M529,259 L524,265 L521,270 M520,241 L521,244.4 L523.8,248.7 L527,253 L528.7,256.2 L529,259" fill="none" stroke="#000" stroke-width="1.2" stroke-linejoin="round"/>

</g>
<rect x="0" y="70.8" width="650" height="1" fill="#b0b0b0"/>
<rect x="0" y="410.3" width="650" height="1" fill="#8a8a8a"/>
<g stroke="#111" stroke-width="1.2">
<rect x="135.6" y="418.2" width="34.4" height="11.6" fill="#b4b4b4"/>
<rect x="182.2" y="418.2" width="34.4" height="11.6" fill="#8c510a"/>
<rect x="228.8" y="418.2" width="34.4" height="11.6" fill="#d8b365"/>
<rect x="275.0" y="418.2" width="34.4" height="11.6" fill="#f6e8c3"/>
<rect x="321.6" y="418.2" width="34.4" height="11.6" fill="#f5f5f5"/>
<rect x="368.2" y="418.2" width="34.4" height="11.6" fill="#c7eae5"/>
<rect x="414.6" y="418.2" width="34.4" height="11.6" fill="#5ab4ac"/>
<rect x="461.0" y="418.2" width="34.4" height="11.6" fill="#01665e"/>
</g>
<g fill="#222" font-size="10" text-anchor="middle">
<text x="153.3" y="444.7" textLength="25.6" lengthAdjust="spacingAndGlyphs">Record</text>
<text x="153.3" y="456.4" textLength="20.2" lengthAdjust="spacingAndGlyphs">Driest</text>
<text x="153.3" y="468.1" textLength="35" lengthAdjust="spacingAndGlyphs">(Tie 0.00&quot;)</text>
<text x="201.5" y="444.7" textLength="25.6" lengthAdjust="spacingAndGlyphs">Record</text>
<text x="201.5" y="456.4" textLength="20.2" lengthAdjust="spacingAndGlyphs">Driest</text>
<text x="247.4" y="444.7" textLength="19" lengthAdjust="spacingAndGlyphs">Much</text>
<text x="247.4" y="456.4" textLength="22" lengthAdjust="spacingAndGlyphs">Below</text>
<text x="247.4" y="468.1" textLength="29" lengthAdjust="spacingAndGlyphs">Average</text>
<text x="293.8" y="444.7" textLength="22" lengthAdjust="spacingAndGlyphs">Below</text>
<text x="293.8" y="456.4" textLength="29" lengthAdjust="spacingAndGlyphs">Average</text>
<text x="339.2" y="444.7" textLength="17.7" lengthAdjust="spacingAndGlyphs">Near</text>
<text x="339.2" y="456.4" textLength="29" lengthAdjust="spacingAndGlyphs">Average</text>
<text x="384.2" y="444.7" textLength="22" lengthAdjust="spacingAndGlyphs">Above</text>
<text x="384.2" y="456.4" textLength="29" lengthAdjust="spacingAndGlyphs">Average</text>
<text x="433.7" y="444.7" textLength="19" lengthAdjust="spacingAndGlyphs">Much</text>
<text x="433.7" y="456.4" textLength="22" lengthAdjust="spacingAndGlyphs">Above</text>
<text x="433.7" y="468.1" textLength="29" lengthAdjust="spacingAndGlyphs">Average</text>
<text x="478.3" y="444.7" textLength="25.6" lengthAdjust="spacingAndGlyphs">Record</text>
<text x="478.3" y="456.4" textLength="27" lengthAdjust="spacingAndGlyphs">Wettest</text>
</g>
<g fill="#222" font-size="10">
<text x="0.6" y="459" textLength="91.5" lengthAdjust="spacingAndGlyphs">Created: Tue May 06 2025</text>
<text x="2" y="472.6" textLength="92.5" lengthAdjust="spacingAndGlyphs">Source: nClimGrid-Monthly</text>
</g>
<g>
<defs><clipPath id="lg"><circle cx="615" cy="445" r="25.2"/></clipPath></defs>
<circle cx="615" cy="445" r="25.2" fill="#0a86c8"/>
<g clip-path="url(#lg)">
<path d="M585,415 L645,415 L645,428 L636,429.5 C629,435 622,449.5 614,449.5 C607,449.5 600,435 594,430.5 L585,428 Z" fill="#0d2c8c"/>
<path d="M594.2,430.3 C600,434.5 607,449.6 614,449.6 C621,449.6 628.5,435 635.2,428.8 L640,436 L638.3,436.8 C633,440 629,448 625,450.6 L626,451.3 C620,452 612,453.5 607.4,455.6 L606.5,454.4 C608,453.5 610,453 611.5,452.6 C606,451 602,446 598,442 C595,439.3 592,438 589,437.6 L589,432 Z" fill="#fff"/>
</g>
<text x="614.9" y="436" font-size="8.2" font-weight="bold" fill="#fff" text-anchor="middle" textLength="20.5" lengthAdjust="spacingAndGlyphs">NOAA</text>
</g>
</svg></body></html>
